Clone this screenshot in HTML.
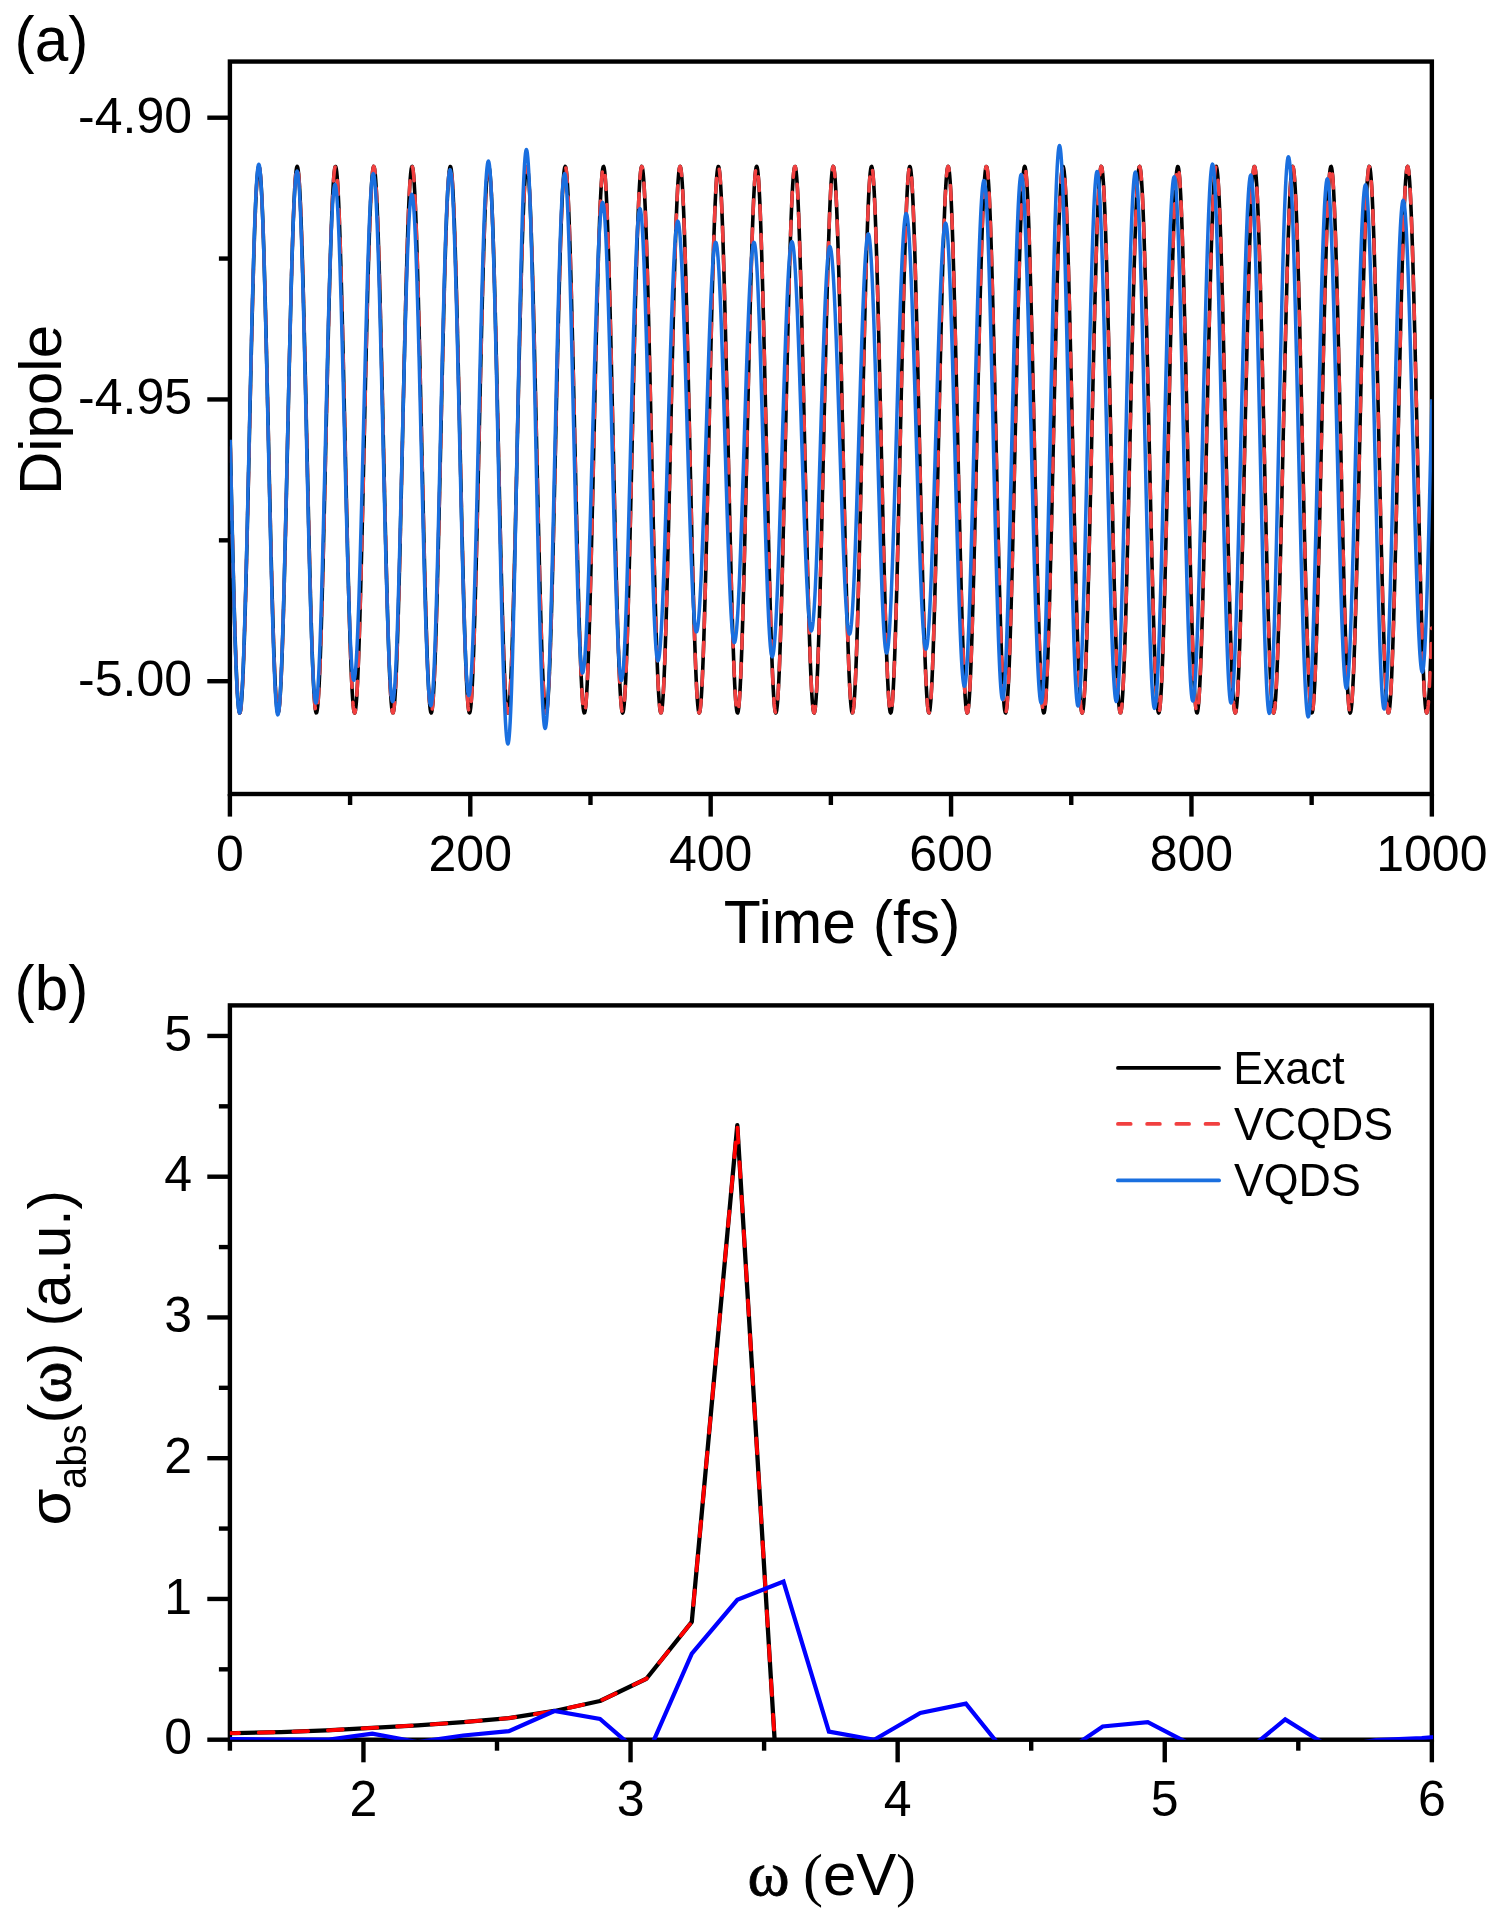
<!DOCTYPE html>
<html><head><meta charset="utf-8"><title>Dipole dynamics and absorption spectrum</title>
<style>
html,body{margin:0;padding:0;background:#fff;}
body{width:1495px;height:1913px;overflow:hidden;font-family:"Liberation Sans",sans-serif;}
svg{display:block;will-change:transform;}
</style></head><body>
<svg width="1495" height="1913" viewBox="0 0 1495 1913">
<defs>
<clipPath id="ca"><rect x="229.9" y="61.55" width="1201.95" height="732.45"/></clipPath>
<clipPath id="cb"><rect x="229.9" y="1005.4" width="1203.15" height="734.3"/></clipPath>
</defs>
<rect width="1495" height="1913" fill="#fff"/>
<g stroke="#000" stroke-width="4.4" fill="none" stroke-linecap="butt">
<rect x="229.9" y="61.55" width="1201.95" height="732.45"/>
<rect x="229.9" y="1005.4" width="1201.95" height="734.3"/>
<line x1="229.9" y1="794" x2="229.9" y2="816.6"/>
<line x1="350.09" y1="794" x2="350.09" y2="805"/>
<line x1="470.29" y1="794" x2="470.29" y2="816.6"/>
<line x1="590.48" y1="794" x2="590.48" y2="805"/>
<line x1="710.68" y1="794" x2="710.68" y2="816.6"/>
<line x1="830.87" y1="794" x2="830.87" y2="805"/>
<line x1="951.07" y1="794" x2="951.07" y2="816.6"/>
<line x1="1071.26" y1="794" x2="1071.26" y2="805"/>
<line x1="1191.46" y1="794" x2="1191.46" y2="816.6"/>
<line x1="1311.65" y1="794" x2="1311.65" y2="805"/>
<line x1="1431.85" y1="794" x2="1431.85" y2="816.6"/>
<line x1="207.3" y1="117.7" x2="229.9" y2="117.7"/>
<line x1="218.9" y1="258.57" x2="229.9" y2="258.57"/>
<line x1="207.3" y1="399.45" x2="229.9" y2="399.45"/>
<line x1="218.9" y1="540.32" x2="229.9" y2="540.32"/>
<line x1="207.3" y1="681.2" x2="229.9" y2="681.2"/>
<line x1="229.9" y1="1739.7" x2="229.9" y2="1750.7"/>
<line x1="363.45" y1="1739.7" x2="363.45" y2="1762.3"/>
<line x1="497" y1="1739.7" x2="497" y2="1750.7"/>
<line x1="630.55" y1="1739.7" x2="630.55" y2="1762.3"/>
<line x1="764.1" y1="1739.7" x2="764.1" y2="1750.7"/>
<line x1="897.65" y1="1739.7" x2="897.65" y2="1762.3"/>
<line x1="1031.2" y1="1739.7" x2="1031.2" y2="1750.7"/>
<line x1="1164.75" y1="1739.7" x2="1164.75" y2="1762.3"/>
<line x1="1298.3" y1="1739.7" x2="1298.3" y2="1750.7"/>
<line x1="1431.85" y1="1739.7" x2="1431.85" y2="1762.3"/>
<line x1="207.3" y1="1739.7" x2="229.9" y2="1739.7"/>
<line x1="218.9" y1="1669.33" x2="229.9" y2="1669.33"/>
<line x1="207.3" y1="1598.95" x2="229.9" y2="1598.95"/>
<line x1="218.9" y1="1528.58" x2="229.9" y2="1528.58"/>
<line x1="207.3" y1="1458.2" x2="229.9" y2="1458.2"/>
<line x1="218.9" y1="1387.83" x2="229.9" y2="1387.83"/>
<line x1="207.3" y1="1317.45" x2="229.9" y2="1317.45"/>
<line x1="218.9" y1="1247.08" x2="229.9" y2="1247.08"/>
<line x1="207.3" y1="1176.7" x2="229.9" y2="1176.7"/>
<line x1="218.9" y1="1106.33" x2="229.9" y2="1106.33"/>
<line x1="207.3" y1="1035.95" x2="229.9" y2="1035.95"/>
</g>
<g clip-path="url(#ca)" fill="none" stroke-linejoin="round">
<path d="M230.18 439.7 L230.68 462.1 L231.18 484.35 L231.68 506.29 L232.18 527.79 L232.68 548.7 L233.18 568.87 L233.68 588.18 L234.18 606.48 L234.68 623.67 L235.18 639.61 L235.68 654.21 L236.18 667.37 L236.68 678.99 L237.18 689.01 L237.68 697.35 L238.18 703.95 L238.68 708.78 L239.18 711.79 L239.68 712.98 L240.18 712.33 L240.68 709.84 L241.18 705.54 L241.68 699.44 L242.18 691.6 L242.68 682.07 L243.18 670.9 L243.68 658.18 L244.18 643.99 L244.68 628.42 L245.18 611.59 L245.68 593.59 L246.18 574.57 L246.68 554.63 L247.18 533.92 L247.68 512.58 L248.18 490.75 L248.68 468.57 L249.18 446.2 L249.68 423.79 L250.18 401.48 L250.68 379.43 L251.18 357.79 L251.68 336.69 L252.18 316.29 L252.68 296.72 L253.18 278.12 L253.68 260.6 L254.18 244.28 L254.68 229.28 L255.18 215.69 L255.68 203.62 L256.18 193.13 L256.68 184.29 L257.18 177.18 L257.68 171.84 L258.18 168.29 L258.68 166.57 L259.18 166.69 L259.68 168.65 L260.18 172.43 L260.68 178.01 L261.18 185.35 L261.68 194.4 L262.18 205.1 L262.68 217.38 L263.18 231.15 L263.68 246.33 L264.18 262.81 L264.68 280.48 L265.18 299.22 L265.68 318.9 L266.18 339.4 L266.68 360.57 L267.18 382.28 L267.68 404.37 L268.18 426.7 L268.68 449.12 L269.18 471.47 L269.68 493.61 L270.18 515.39 L270.68 536.65 L271.18 557.27 L271.68 577.09 L272.18 595.99 L272.68 613.84 L273.18 630.52 L273.68 645.91 L274.18 659.92 L274.68 672.44 L275.18 683.4 L275.68 692.72 L276.18 700.33 L276.68 706.2 L277.18 710.27 L277.68 712.52 L278.18 712.93 L278.68 711.51 L279.18 708.25 L279.68 703.19 L280.18 696.36 L280.68 687.8 L281.18 677.57 L281.68 665.74 L282.18 652.39 L282.68 637.61 L283.18 621.5 L283.68 604.16 L284.18 585.72 L284.68 566.3 L285.18 546.02 L285.68 525.03 L286.18 503.46 L286.68 481.47 L287.18 459.19 L287.68 436.78 L288.18 414.4 L288.68 392.18 L289.18 370.28 L289.68 348.85 L290.18 328.03 L290.68 307.97 L291.18 288.78 L291.68 270.62 L292.18 253.59 L292.68 237.81 L293.18 223.4 L293.68 210.43 L294.18 199.01 L294.68 189.21 L295.18 181.1 L295.68 174.72 L296.18 170.13 L296.68 167.35 L297.18 166.4 L297.68 167.29 L298.18 170.02 L298.68 174.56 L299.18 180.88 L299.68 188.94 L300.18 198.69 L300.68 210.07 L301.18 222.98 L301.68 237.36 L302.18 253.1 L302.68 270.09 L303.18 288.22 L303.68 307.38 L304.18 327.42 L304.68 348.22 L305.18 369.63 L305.68 391.52 L306.18 413.73 L306.68 436.11 L307.18 458.52 L307.68 480.8 L308.18 502.81 L308.68 524.39 L309.18 545.4 L309.68 565.7 L310.18 585.15 L310.68 603.63 L311.18 621 L311.68 637.15 L312.18 651.97 L312.68 665.36 L313.18 677.24 L313.68 687.52 L314.18 696.13 L314.68 703.01 L315.18 708.13 L315.68 711.43 L316.18 712.91 L316.68 712.56 L317.18 710.36 L317.68 706.35 L318.18 700.54 L318.68 692.97 L319.18 683.7 L319.68 672.79 L320.18 660.32 L320.68 646.35 L321.18 631 L321.68 614.36 L322.18 596.55 L322.68 577.67 L323.18 557.88 L323.68 537.28 L324.18 516.03 L324.68 494.27 L325.18 472.14 L325.68 449.79 L326.18 427.37 L326.68 405.04 L327.18 382.94 L327.68 361.22 L328.18 340.03 L328.68 319.51 L329.18 299.79 L329.68 281.02 L330.18 263.32 L330.68 246.8 L331.18 231.59 L331.68 217.77 L332.18 205.44 L332.68 194.69 L333.18 185.59 L333.68 178.2 L334.18 172.57 L334.68 168.74 L335.18 166.73 L335.68 166.55 L336.18 168.21 L336.68 171.7 L337.18 177 L337.68 184.06 L338.18 192.84 L338.68 203.28 L339.18 215.31 L339.68 228.85 L340.18 243.81 L340.68 260.09 L341.18 277.57 L341.68 296.15 L342.18 315.69 L342.68 336.07 L343.18 357.15 L343.68 378.78 L344.18 400.82 L344.68 423.12 L345.18 445.53 L345.68 467.9 L346.18 490.09 L346.68 511.93 L347.18 533.29 L347.68 554.02 L348.18 573.98 L348.68 593.04 L349.18 611.06 L349.68 627.93 L350.18 643.54 L350.68 657.77 L351.18 670.54 L351.68 681.76 L352.18 691.34 L352.68 699.23 L353.18 705.38 L353.68 709.74 L354.18 712.28 L354.68 712.99 L355.18 711.86 L355.68 708.9 L356.18 704.12 L356.68 697.57 L357.18 689.28 L357.68 679.32 L358.18 667.74 L358.68 654.63 L359.18 640.07 L359.68 624.16 L360.18 607.01 L360.68 588.74 L361.18 569.46 L361.68 549.32 L362.18 528.43 L362.68 506.95 L363.18 485.01 L363.68 462.77 L364.18 440.37 L364.68 417.97 L365.18 395.72 L365.68 373.76 L366.18 352.24 L366.68 331.32 L367.18 311.12 L367.68 291.79 L368.18 273.45 L368.68 256.23 L369.18 240.25 L369.68 225.61 L370.18 212.4 L370.68 200.73 L371.18 190.67 L371.68 182.28 L372.18 175.62 L372.68 170.74 L373.18 167.67 L373.68 166.43 L374.18 167.03 L374.68 169.46 L375.18 173.71 L375.68 179.75 L376.18 187.54 L376.68 197.02 L377.18 208.14 L377.68 220.82 L378.18 234.97 L378.68 250.49 L379.18 267.29 L379.68 285.25 L380.18 304.25 L380.68 324.16 L381.18 344.85 L381.68 366.17 L382.18 387.99 L382.68 410.16 L383.18 432.53 L383.68 454.94 L384.18 477.25 L384.68 499.31 L385.18 520.97 L385.68 542.08 L386.18 562.51 L386.68 582.1 L387.18 600.74 L387.68 618.3 L388.18 634.65 L388.68 649.69 L389.18 663.32 L389.68 675.44 L390.18 685.98 L390.68 694.86 L391.18 702.03 L391.68 707.43 L392.18 711.03 L392.68 712.8 L393.18 712.74 L393.68 710.84 L394.18 707.11 L394.68 701.59 L395.18 694.3 L395.68 685.3 L396.18 674.65 L396.68 662.41 L397.18 648.68 L397.68 633.55 L398.18 617.1 L398.68 599.47 L399.18 580.76 L399.68 561.1 L400.18 540.63 L400.68 519.47 L401.18 497.78 L401.68 475.7 L402.18 453.37 L402.68 430.96 L403.18 408.6 L403.68 386.45 L404.18 364.66 L404.68 343.38 L405.18 322.74 L405.68 302.89 L406.18 283.96 L406.68 266.08 L407.18 249.36 L407.68 233.93 L408.18 219.88 L408.68 207.31 L409.18 196.31 L409.68 186.94 L410.18 179.27 L410.68 173.35 L411.18 169.23 L411.68 166.92 L412.18 166.46 L412.68 167.82 L413.18 171.02 L413.68 176.03 L414.18 182.81 L414.68 191.32 L415.18 201.5 L415.68 213.28 L416.18 226.59 L416.68 241.33 L417.18 257.4 L417.68 274.7 L418.18 293.11 L418.68 312.51 L419.18 332.76 L419.68 353.73 L420.18 375.28 L420.68 397.27 L421.18 419.54 L421.68 441.94 L422.18 464.33 L422.68 486.56 L423.18 508.47 L423.68 529.91 L424.18 550.75 L424.68 570.84 L425.18 590.05 L425.68 608.25 L426.18 625.32 L426.68 641.13 L427.18 655.59 L427.68 668.6 L428.18 680.07 L428.68 689.92 L429.18 698.09 L429.68 704.51 L430.18 709.16 L430.68 712 L431.18 713 L431.68 712.16 L432.18 709.49 L432.68 705.01 L433.18 698.74 L433.68 690.72 L434.18 681.02 L434.68 669.7 L435.18 656.82 L435.68 642.49 L436.18 626.79 L436.68 609.84 L437.18 591.74 L437.68 572.61 L438.18 552.59 L438.68 531.81 L439.18 510.42 L439.68 488.54 L440.18 466.34 L440.68 443.96 L441.18 421.55 L441.68 399.26 L442.18 377.25 L442.68 355.65 L443.18 334.62 L443.68 314.3 L444.18 294.82 L444.68 276.31 L445.18 258.91 L445.68 242.72 L446.18 227.86 L446.68 214.42 L447.18 202.49 L447.68 192.17 L448.18 183.51 L448.68 176.57 L449.18 171.4 L449.68 168.04 L450.18 166.5 L450.68 166.81 L451.18 168.95 L451.68 172.91 L452.18 178.66 L452.68 186.18 L453.18 195.39 L453.68 206.26 L454.18 218.69 L454.68 232.61 L455.18 247.92 L455.68 264.52 L456.18 282.3 L456.68 301.14 L457.18 320.92 L457.68 341.49 L458.18 362.72 L458.68 384.47 L459.18 406.59 L459.68 428.94 L460.18 451.36 L460.68 473.7 L461.18 495.81 L461.68 517.54 L462.18 538.75 L462.68 559.29 L463.18 579.03 L463.68 597.83 L464.18 615.56 L464.68 632.12 L465.18 647.38 L465.68 661.24 L466.18 673.61 L466.68 684.41 L467.18 693.56 L467.68 701 L468.18 706.69 L468.68 710.57 L469.18 712.64 L469.68 712.87 L470.18 711.26 L470.68 707.83 L471.18 702.59 L471.68 695.58 L472.18 686.85 L472.68 676.46 L473.18 664.47 L473.68 650.98 L474.18 636.06 L474.68 619.82 L475.18 602.37 L475.68 583.82 L476.18 564.3 L476.68 543.95 L477.18 522.9 L477.68 501.28 L478.18 479.25 L478.68 456.95 L479.18 434.54 L479.68 412.17 L480.18 389.97 L480.68 368.12 L481.18 346.74 L481.68 325.99 L482.18 306.01 L482.68 286.92 L483.18 268.86 L483.68 251.95 L484.18 236.31 L484.68 222.03 L485.18 209.22 L485.68 197.96 L486.18 188.32 L486.68 180.38 L487.18 174.18 L487.68 169.77 L488.18 167.17 L488.68 166.41 L489.18 167.48 L489.68 170.39 L490.18 175.11 L490.68 181.61 L491.18 189.84 L491.68 199.76 L492.18 211.29 L492.68 224.36 L493.18 238.87 L493.68 254.74 L494.18 271.85 L494.68 290.1 L495.18 309.34 L495.68 329.47 L496.18 350.33 L496.68 371.8 L497.18 393.73 L497.68 415.96 L498.18 438.35 L498.68 460.76 L499.18 483.02 L499.68 504.99 L500.18 526.52 L500.68 547.46 L501.18 567.69 L501.68 587.05 L502.18 605.41 L502.68 622.67 L503.18 638.69 L503.68 653.37 L504.18 666.62 L504.68 678.34 L505.18 688.45 L505.68 696.9 L506.18 703.61 L506.68 708.54 L507.18 711.67 L507.68 712.96 L508.18 712.42 L508.68 710.04 L509.18 705.85 L509.68 699.86 L510.18 692.12 L510.68 682.69 L511.18 671.62 L511.68 658.98 L512.18 644.88 L512.68 629.39 L513.18 612.63 L513.68 594.7 L514.18 575.73 L514.68 555.85 L515.18 535.18 L515.68 513.88 L516.18 492.07 L516.68 469.91 L517.18 447.55 L517.68 425.13 L518.18 402.81 L518.68 380.74 L519.18 359.07 L519.68 337.94 L520.18 317.5 L520.68 297.87 L521.18 279.2 L521.68 261.61 L522.18 245.22 L522.68 230.14 L523.18 216.47 L523.68 204.3 L524.18 193.71 L524.68 184.78 L525.18 177.56 L525.68 172.11 L526.18 168.45 L526.68 166.63 L527.18 166.63 L527.68 168.48 L528.18 172.15 L528.68 177.62 L529.18 184.86 L529.68 193.81 L530.18 204.41 L530.68 216.6 L531.18 230.28 L531.68 245.38 L532.18 261.78 L532.68 279.39 L533.18 298.06 L533.68 317.7 L534.18 338.15 L534.68 359.29 L535.18 380.96 L535.68 403.04 L536.18 425.36 L536.68 447.77 L537.18 470.13 L537.68 492.29 L538.18 514.09 L538.68 535.39 L539.18 556.05 L539.68 575.93 L540.18 594.89 L540.68 612.8 L541.18 629.55 L541.68 645.03 L542.18 659.12 L542.68 671.73 L543.18 682.79 L543.68 692.21 L544.18 699.93 L544.68 705.9 L545.18 710.07 L545.68 712.43 L546.18 712.96 L546.68 711.64 L547.18 708.5 L547.68 703.55 L548.18 696.82 L548.68 688.36 L549.18 678.23 L549.68 666.5 L550.18 653.23 L550.68 638.54 L551.18 622.5 L551.68 605.24 L552.18 586.86 L552.68 567.49 L553.18 547.26 L553.68 526.31 L554.18 504.77 L554.68 482.8 L555.18 460.53 L555.68 438.13 L556.18 415.74 L556.68 393.51 L557.18 371.59 L557.68 350.12 L558.18 329.26 L558.68 309.15 L559.18 289.91 L559.68 271.68 L560.18 254.58 L560.68 238.72 L561.18 224.22 L561.68 211.17 L562.18 199.65 L562.68 189.75 L563.18 181.53 L563.68 175.05 L564.18 170.35 L564.68 167.46 L565.18 166.41 L565.68 167.19 L566.18 169.8 L566.68 174.23 L567.18 180.45 L567.68 188.41 L568.18 198.06 L568.68 209.34 L569.18 222.17 L569.68 236.46 L570.18 252.12 L570.68 269.04 L571.18 287.11 L571.68 306.2 L572.18 326.19 L572.68 346.95 L573.18 368.33 L573.68 390.19 L574.18 412.39 L574.68 434.77 L575.18 457.18 L575.68 479.47 L576.18 501.5 L576.68 523.11 L577.18 544.16 L577.68 564.5 L578.18 584.01 L578.68 602.55 L579.18 619.99 L579.68 636.21 L580.18 651.12 L580.68 664.6 L581.18 676.57 L581.68 686.95 L582.18 695.66 L582.68 702.65 L583.18 707.87 L583.68 711.29 L584.18 712.88 L584.68 712.63 L585.18 710.54 L585.68 706.64 L586.18 700.94 L586.68 693.47 L587.18 684.31 L587.68 673.49 L588.18 661.11 L588.68 647.23 L589.18 631.96 L589.68 615.39 L590.18 597.65 L590.68 578.83 L591.18 559.09 L591.68 538.54 L592.18 517.32 L592.68 495.59 L593.18 473.47 L593.68 451.13 L594.18 428.72 L594.68 406.37 L595.18 384.25 L595.68 362.51 L596.18 341.28 L596.68 320.72 L597.18 300.95 L597.68 282.12 L598.18 264.35 L598.68 247.76 L599.18 232.46 L599.68 218.56 L600.18 206.14 L600.68 195.29 L601.18 186.09 L601.68 178.6 L602.18 172.86 L602.68 168.92 L603.18 166.79 L603.68 166.51 L604.18 168.06 L604.68 171.44 L605.18 176.63 L605.68 183.58 L606.18 192.26 L606.68 202.61 L607.18 214.54 L607.68 228 L608.18 242.87 L608.68 259.08 L609.18 276.49 L609.68 295.01 L610.18 314.5 L610.68 334.83 L611.18 355.86 L611.68 377.46 L612.18 399.48 L612.68 421.77 L613.18 444.18 L613.68 466.56 L614.18 488.76 L614.68 510.63 L615.18 532.03 L615.68 552.8 L616.18 572.81 L616.68 591.92 L617.18 610.01 L617.68 626.96 L618.18 642.64 L618.68 656.96 L619.18 669.82 L619.68 681.13 L620.18 690.81 L620.68 698.81 L621.18 705.06 L621.68 709.53 L622.18 712.18 L622.68 713 L623.18 711.98 L623.68 709.12 L624.18 704.46 L624.68 698.01 L625.18 689.83 L625.68 679.96 L626.18 668.48 L626.68 655.46 L627.18 640.98 L627.68 625.15 L628.18 608.08 L628.68 589.87 L629.18 570.65 L629.68 550.55 L630.18 529.7 L630.68 508.25 L631.18 486.34 L631.68 464.11 L632.18 441.72 L632.68 419.31 L633.18 397.05 L633.68 375.07 L634.18 353.52 L634.68 332.55 L635.18 312.31 L635.68 292.92 L636.18 274.52 L636.68 257.23 L637.18 241.17 L637.68 226.45 L638.18 213.15 L638.68 201.39 L639.18 191.22 L639.68 182.73 L640.18 175.97 L640.68 170.98 L641.18 167.8 L641.68 166.45 L642.18 166.94 L642.68 169.26 L643.18 173.4 L643.68 179.34 L644.18 187.02 L644.68 196.41 L645.18 207.43 L645.68 220.01 L646.18 234.08 L646.68 249.52 L647.18 266.25 L647.68 284.14 L648.18 303.08 L648.68 322.94 L649.18 343.59 L649.68 364.88 L650.18 386.67 L650.68 408.82 L651.18 431.18 L651.68 453.6 L652.18 475.92 L652.68 498 L653.18 519.69 L653.68 540.83 L654.18 561.3 L654.68 580.95 L655.18 599.65 L655.68 617.28 L656.18 633.7 L656.68 648.83 L657.18 662.54 L657.68 674.76 L658.18 685.4 L658.68 694.38 L659.18 701.65 L659.68 707.16 L660.18 710.86 L660.68 712.75 L661.18 712.79 L661.68 711 L662.18 707.38 L662.68 701.97 L663.18 694.78 L663.68 685.89 L664.18 675.33 L664.68 663.19 L665.18 649.55 L665.68 634.49 L666.18 618.13 L666.68 600.56 L667.18 581.91 L667.68 562.3 L668.18 541.87 L668.68 520.76 L669.18 499.09 L669.68 477.03 L670.18 454.72 L670.68 432.3 L671.18 409.94 L671.68 387.77 L672.18 365.96 L672.68 344.64 L673.18 323.96 L673.68 304.05 L674.18 285.07 L674.68 267.12 L675.18 250.33 L675.68 234.82 L676.18 220.68 L676.68 208.02 L677.18 196.92 L677.68 187.45 L678.18 179.68 L678.68 173.66 L679.18 169.42 L679.68 167.01 L680.18 166.43 L680.68 167.69 L681.18 170.78 L681.68 175.68 L682.18 182.35 L682.68 190.76 L683.18 200.84 L683.68 212.53 L684.18 225.75 L684.68 240.4 L685.18 256.4 L685.68 273.63 L686.18 291.98 L686.68 311.32 L687.18 331.52 L687.68 352.46 L688.18 373.98 L688.68 395.94 L689.18 418.2 L689.68 440.6 L690.18 462.99 L690.68 485.23 L691.18 507.16 L691.68 528.64 L692.18 549.52 L692.68 569.66 L693.18 588.93 L693.68 607.19 L694.18 624.33 L694.68 640.22 L695.18 654.77 L695.68 667.86 L696.18 679.43 L696.68 689.38 L697.18 697.64 L697.68 704.18 L698.18 708.93 L698.68 711.88 L699.18 712.99 L699.68 712.26 L700.18 709.7 L700.68 705.33 L701.18 699.16 L701.68 691.25 L702.18 681.65 L702.68 670.42 L703.18 657.64 L703.68 643.39 L704.18 627.77 L704.68 610.89 L705.18 592.85 L705.68 573.79 L706.18 553.82 L706.68 533.08 L707.18 511.72 L707.68 489.87 L708.18 467.68 L708.68 445.31 L709.18 422.89 L709.68 400.59 L710.18 378.56 L710.68 356.93 L711.18 335.86 L711.68 315.49 L712.18 295.96 L712.68 277.39 L713.18 259.92 L713.68 243.65 L714.18 228.71 L714.68 215.18 L715.18 203.16 L715.68 192.74 L716.18 183.98 L716.68 176.93 L717.18 171.66 L717.68 168.19 L718.18 166.54 L718.68 166.74 L719.18 168.77 L719.68 172.62 L720.18 178.27 L720.68 185.68 L721.18 194.79 L721.68 205.56 L722.18 217.9 L722.68 231.73 L723.18 246.96 L723.68 263.49 L724.18 281.21 L724.68 299.99 L725.18 319.71 L725.68 340.24 L726.18 361.43 L726.68 383.16 L727.18 405.26 L727.68 427.6 L728.18 450.01 L728.68 472.36 L729.18 494.49 L729.68 516.25 L730.18 537.49 L730.68 558.08 L731.18 577.87 L731.68 596.73 L732.18 614.53 L732.68 631.16 L733.18 646.5 L733.68 660.45 L734.18 672.91 L734.68 683.8 L735.18 693.06 L735.68 700.6 L736.18 706.4 L736.68 710.39 L737.18 712.57 L737.68 712.91 L738.18 711.41 L738.68 708.08 L739.18 702.95 L739.68 696.05 L740.18 687.42 L740.68 677.13 L741.18 665.24 L741.68 651.83 L742.18 636.99 L742.68 620.83 L743.18 603.45 L743.68 584.96 L744.18 565.5 L744.68 545.19 L745.18 524.18 L745.68 502.59 L746.18 480.58 L746.68 458.3 L747.18 435.89 L747.68 413.5 L748.18 391.3 L748.68 369.42 L749.18 348.01 L749.68 327.22 L750.18 307.18 L750.68 288.04 L751.18 269.91 L751.68 252.93 L752.18 237.21 L752.68 222.85 L753.18 209.95 L753.68 198.59 L754.18 188.85 L754.68 180.81 L755.18 174.5 L755.68 169.98 L756.18 167.27 L756.68 166.4 L757.18 167.37 L757.68 170.16 L758.18 174.77 L758.68 181.17 L759.18 189.3 L759.68 199.12 L760.18 210.55 L760.68 223.53 L761.18 237.96 L761.68 253.75 L762.18 270.79 L762.68 288.97 L763.18 308.16 L763.68 328.24 L764.18 349.06 L764.68 370.5 L765.18 392.4 L765.68 414.62 L766.18 437.01 L766.68 459.42 L767.18 481.69 L767.68 503.68 L768.18 525.24 L768.68 546.23 L769.18 566.49 L769.68 585.91 L770.18 604.34 L770.68 621.67 L771.18 637.77 L771.68 652.53 L772.18 665.87 L772.68 677.68 L773.18 687.89 L773.68 696.44 L774.18 703.25 L774.68 708.29 L775.18 711.53 L775.68 712.94 L776.18 712.5 L776.68 710.24 L777.18 706.15 L777.68 700.27 L778.18 692.63 L778.68 683.3 L779.18 672.32 L779.68 659.79 L780.18 645.77 L780.68 630.36 L781.18 613.67 L781.68 595.81 L782.18 576.9 L782.68 557.07 L783.18 536.44 L783.68 515.17 L784.18 493.39 L784.68 471.25 L785.18 448.89 L785.68 426.48 L786.18 404.15 L786.68 382.06 L787.18 360.36 L787.68 339.19 L788.18 318.7 L788.68 299.02 L789.18 280.29 L789.68 262.64 L790.18 246.17 L790.68 231.01 L791.18 217.25 L791.68 204.98 L792.18 194.3 L792.68 185.26 L793.18 177.94 L793.68 172.38 L794.18 168.62 L794.68 166.68 L795.18 166.58 L795.68 168.32 L796.18 171.88 L796.68 177.24 L797.18 184.37 L797.68 193.22 L798.18 203.73 L798.68 215.82 L799.18 229.42 L799.68 244.44 L800.18 260.77 L800.68 278.3 L801.18 296.92 L801.68 316.49 L802.18 336.9 L802.68 358 L803.18 379.65 L803.68 401.7 L804.18 424.01 L804.68 446.43 L805.18 468.8 L805.68 490.97 L806.18 512.8 L806.68 534.13 L807.18 554.83 L807.68 574.76 L808.18 593.78 L808.68 611.76 L809.18 628.58 L809.68 644.14 L810.18 658.31 L810.68 671.02 L811.18 682.17 L811.68 691.69 L812.18 699.51 L812.68 705.59 L813.18 709.87 L813.68 712.34 L814.18 712.98 L814.68 711.77 L815.18 708.74 L815.68 703.89 L816.18 697.27 L816.68 688.92 L817.18 678.89 L817.68 667.24 L818.18 654.07 L818.68 639.46 L819.18 623.5 L819.68 606.3 L820.18 587.99 L820.68 568.67 L821.18 548.49 L821.68 527.58 L822.18 506.08 L822.68 484.12 L823.18 461.87 L823.68 439.48 L824.18 417.08 L824.68 394.83 L825.18 372.89 L825.68 351.4 L826.18 330.5 L826.68 310.33 L827.18 291.04 L827.68 272.74 L828.18 255.57 L828.68 239.64 L829.18 225.05 L829.68 211.91 L830.18 200.3 L830.68 190.3 L831.18 181.98 L831.68 175.39 L832.18 170.58 L832.68 167.58 L833.18 166.42 L833.68 167.09 L834.18 169.59 L834.68 173.92 L835.18 180.03 L835.68 187.88 L836.18 197.44 L836.68 208.62 L837.18 221.36 L837.68 235.56 L838.18 251.14 L838.68 267.99 L839.18 285.99 L839.68 305.03 L840.18 324.97 L840.68 345.69 L841.18 367.04 L841.68 388.87 L842.18 411.05 L842.68 433.42 L843.18 455.84 L843.68 478.14 L844.18 500.19 L844.68 521.83 L845.18 542.91 L845.68 563.31 L846.18 582.87 L846.68 601.46 L847.18 618.97 L847.68 635.28 L848.18 650.26 L848.68 663.83 L849.18 675.9 L849.68 686.37 L850.18 695.18 L850.68 702.28 L851.18 707.61 L851.68 711.13 L852.18 712.83 L852.68 712.7 L853.18 710.72 L853.68 706.92 L854.18 701.33 L854.68 693.97 L855.18 684.9 L855.68 674.19 L856.18 661.89 L856.68 648.1 L857.18 632.91 L857.68 616.42 L858.18 598.74 L858.68 579.99 L859.18 560.3 L859.68 539.79 L860.18 518.61 L860.68 496.9 L861.18 474.81 L861.68 452.48 L862.18 430.06 L862.68 407.71 L863.18 385.57 L863.68 363.8 L864.18 342.54 L864.68 321.93 L865.18 302.11 L865.68 283.22 L866.18 265.38 L866.68 248.72 L867.18 233.34 L867.68 219.35 L868.18 206.84 L868.68 195.9 L869.18 186.6 L869.68 179 L870.18 173.15 L870.68 169.1 L871.18 166.87 L871.68 166.47 L872.18 167.92 L872.68 171.19 L873.18 176.27 L873.68 183.12 L874.18 191.69 L874.68 201.94 L875.18 213.78 L875.68 227.15 L876.18 241.94 L876.68 258.07 L877.18 275.42 L877.68 293.87 L878.18 313.3 L878.68 333.59 L879.18 354.58 L879.68 376.16 L880.18 398.15 L880.68 420.43 L881.18 442.84 L881.68 465.23 L882.18 487.44 L882.68 509.33 L883.18 530.76 L883.68 551.57 L884.18 571.63 L884.68 590.8 L885.18 608.96 L885.68 625.97 L886.18 641.74 L886.68 656.14 L887.18 669.09 L887.68 680.49 L888.18 690.28 L888.68 698.38 L889.18 704.74 L889.68 709.31 L890.18 712.07 L890.68 713 L891.18 712.09 L891.68 709.35 L892.18 704.79 L892.68 698.45 L893.18 690.37 L893.68 680.6 L894.18 669.21 L894.68 656.28 L895.18 641.89 L895.68 626.14 L896.18 609.13 L896.68 590.99 L897.18 571.83 L897.68 551.78 L898.18 530.97 L898.68 509.55 L899.18 487.66 L899.68 465.45 L900.18 443.06 L900.68 420.66 L901.18 398.38 L901.68 376.37 L902.18 354.8 L902.68 333.79 L903.18 313.5 L903.68 294.06 L904.18 275.6 L904.68 258.24 L905.18 242.1 L905.68 227.29 L906.18 213.91 L906.68 202.05 L907.18 191.79 L907.68 183.19 L908.18 176.33 L908.68 171.23 L909.18 167.94 L909.68 166.48 L910.18 166.86 L910.68 169.07 L911.18 173.1 L911.68 178.93 L912.18 186.51 L912.68 195.8 L913.18 206.72 L913.68 219.22 L914.18 233.19 L914.68 248.56 L915.18 265.21 L915.68 283.04 L916.18 301.92 L916.68 321.73 L917.18 342.33 L917.68 363.58 L918.18 385.35 L918.68 407.49 L919.18 429.84 L919.68 452.25 L920.18 474.59 L920.68 496.68 L921.18 518.4 L921.68 539.58 L922.18 560.1 L922.68 579.8 L923.18 598.56 L923.68 616.25 L924.18 632.75 L924.68 647.96 L925.18 661.76 L925.68 674.07 L926.18 684.8 L926.68 693.89 L927.18 701.26 L927.68 706.88 L928.18 710.69 L928.68 712.69 L929.18 712.84 L929.68 711.16 L930.18 707.65 L930.68 702.34 L931.18 695.26 L931.68 686.47 L932.18 676.01 L932.68 663.96 L933.18 650.41 L933.68 635.43 L934.18 619.14 L934.68 601.65 L935.18 583.06 L935.68 563.51 L936.18 543.12 L936.68 522.04 L937.18 500.41 L937.68 478.36 L938.18 456.06 L938.68 433.65 L939.18 411.27 L939.68 389.09 L940.18 367.25 L940.68 345.9 L941.18 325.18 L941.68 305.22 L942.18 286.18 L942.68 268.16 L943.18 251.3 L943.68 235.71 L944.18 221.49 L944.68 208.74 L945.18 197.54 L945.68 187.97 L946.18 180.1 L946.68 173.97 L947.18 169.63 L947.68 167.1 L948.18 166.41 L948.68 167.56 L949.18 170.54 L949.68 175.33 L950.18 181.9 L950.68 190.21 L951.18 200.19 L951.68 211.78 L952.18 224.91 L952.68 239.48 L953.18 255.4 L953.68 272.56 L954.18 290.85 L954.68 310.13 L955.18 330.29 L955.68 351.18 L956.18 372.67 L956.68 394.61 L957.18 416.85 L957.68 439.25 L958.18 461.65 L958.68 483.9 L959.18 505.86 L959.68 527.37 L960.18 548.29 L960.68 568.48 L961.18 587.8 L961.68 606.13 L962.18 623.33 L962.68 639.3 L963.18 653.93 L963.68 667.12 L964.18 678.78 L964.68 688.82 L965.18 697.2 L965.68 703.84 L966.18 708.7 L966.68 711.75 L967.18 712.97 L967.68 712.36 L968.18 709.91 L968.68 705.64 L969.18 699.58 L969.68 691.78 L970.18 682.27 L970.68 671.14 L971.18 658.45 L971.68 644.29 L972.18 628.75 L972.68 611.93 L973.18 593.96 L973.68 574.96 L974.18 555.04 L974.68 534.34 L975.18 513.01 L975.68 491.19 L976.18 469.02 L976.68 446.65 L977.18 424.24 L977.68 401.93 L978.18 379.87 L978.68 358.22 L979.18 337.11 L979.68 316.69 L980.18 297.11 L980.68 278.48 L981.18 260.93 L981.68 244.59 L982.18 229.57 L982.68 215.95 L983.18 203.84 L983.68 193.32 L984.18 184.45 L984.68 177.31 L985.18 171.93 L985.68 168.35 L986.18 166.59 L986.68 166.67 L987.18 168.59 L987.68 172.34 L988.18 177.88 L988.68 185.18 L989.18 194.2 L989.68 204.87 L990.18 217.12 L990.68 230.86 L991.18 246.01 L991.68 262.47 L992.18 280.11 L992.68 298.83 L993.18 318.5 L993.68 338.98 L994.18 360.14 L994.68 381.84 L995.18 403.93 L995.68 426.25 L996.18 448.67 L996.68 471.02 L997.18 493.17 L997.68 514.96 L998.18 536.23 L998.68 556.86 L999.18 576.71 L999.68 595.63 L1000.18 613.5 L1000.68 630.2 L1001.18 645.62 L1001.68 659.65 L1002.18 672.21 L1002.68 683.2 L1003.18 692.55 L1003.68 700.2 L1004.18 706.1 L1004.68 710.2 L1005.18 712.49 L1005.68 712.94 L1006.18 711.55 L1006.68 708.34 L1007.18 703.31 L1007.68 696.51 L1008.18 687.99 L1008.68 677.79 L1009.18 665.99 L1009.68 652.67 L1010.18 637.92 L1010.68 621.83 L1011.18 604.52 L1011.68 586.1 L1012.18 566.69 L1012.68 546.43 L1013.18 525.45 L1013.68 503.9 L1014.18 481.91 L1014.68 459.64 L1015.18 437.23 L1015.68 414.84 L1016.18 392.62 L1016.68 370.72 L1017.18 349.28 L1017.68 328.44 L1018.18 308.36 L1018.68 289.16 L1019.18 270.97 L1019.68 253.92 L1020.18 238.12 L1020.68 223.67 L1021.18 210.68 L1021.68 199.22 L1022.18 189.39 L1022.68 181.24 L1023.18 174.83 L1023.68 170.2 L1024.18 167.38 L1024.68 166.4 L1025.18 167.26 L1025.68 169.94 L1026.18 174.45 L1026.68 180.73 L1027.18 188.76 L1027.68 198.48 L1028.18 209.82 L1028.68 222.71 L1029.18 237.06 L1029.68 252.77 L1030.18 269.74 L1030.68 287.85 L1031.18 306.98 L1031.68 327.01 L1032.18 347.8 L1032.68 369.2 L1033.18 391.08 L1033.68 413.28 L1034.18 435.66 L1034.68 458.07 L1035.18 480.36 L1035.68 502.37 L1036.18 523.96 L1036.68 544.99 L1037.18 565.3 L1037.68 584.77 L1038.18 603.27 L1038.68 620.66 L1039.18 636.84 L1039.68 651.69 L1040.18 665.11 L1040.68 677.02 L1041.18 687.33 L1041.68 695.97 L1042.18 702.89 L1042.68 708.04 L1043.18 711.39 L1043.68 712.9 L1044.18 712.58 L1044.68 710.42 L1045.18 706.44 L1045.68 700.67 L1046.18 693.14 L1046.68 683.91 L1047.18 673.03 L1047.68 660.58 L1048.18 646.65 L1048.68 631.32 L1049.18 614.7 L1049.68 596.91 L1050.18 578.06 L1050.68 558.28 L1051.18 537.7 L1051.68 516.46 L1052.18 494.71 L1052.68 472.58 L1053.18 450.24 L1053.68 427.82 L1054.18 405.48 L1054.68 383.37 L1055.18 361.65 L1055.68 340.44 L1056.18 319.91 L1056.68 300.18 L1057.18 281.39 L1057.68 263.66 L1058.18 247.12 L1058.68 231.88 L1059.18 218.03 L1059.68 205.67 L1060.18 194.89 L1060.68 185.76 L1061.18 178.33 L1061.68 172.67 L1062.18 168.8 L1062.68 166.75 L1063.18 166.54 L1063.68 168.16 L1064.18 171.62 L1064.68 176.87 L1065.18 183.9 L1065.68 192.64 L1066.18 203.05 L1066.68 215.05 L1067.18 228.57 L1067.68 243.5 L1068.18 259.75 L1068.68 277.21 L1069.18 295.77 L1069.68 315.29 L1070.18 335.66 L1070.68 356.72 L1071.18 378.34 L1071.68 400.37 L1072.18 422.67 L1072.68 445.08 L1073.18 467.46 L1073.68 489.65 L1074.18 511.5 L1074.68 532.87 L1075.18 553.61 L1075.68 573.59 L1076.18 592.67 L1076.68 610.71 L1077.18 627.61 L1077.68 643.24 L1078.18 657.5 L1078.68 670.3 L1079.18 681.55 L1079.68 691.17 L1080.18 699.09 L1080.68 705.27 L1081.18 709.67 L1081.68 712.25 L1082.18 712.99 L1082.68 711.9 L1083.18 708.97 L1083.68 704.24 L1084.18 697.72 L1084.68 689.47 L1085.18 679.53 L1085.68 667.99 L1086.18 654.9 L1086.68 640.37 L1087.18 624.49 L1087.68 607.37 L1088.18 589.12 L1088.68 569.86 L1089.18 549.73 L1089.68 528.85 L1090.18 507.38 L1090.68 485.45 L1091.18 463.22 L1091.68 440.82 L1092.18 418.42 L1092.68 396.16 L1093.18 374.19 L1093.68 352.67 L1094.18 331.73 L1094.68 311.52 L1095.18 292.17 L1095.68 273.81 L1096.18 256.57 L1096.68 240.56 L1097.18 225.89 L1097.68 212.65 L1098.18 200.95 L1098.68 190.85 L1099.18 182.43 L1099.68 175.74 L1100.18 170.82 L1100.68 167.71 L1101.18 166.43 L1101.68 167 L1102.18 169.39 L1102.68 173.61 L1103.18 179.61 L1103.68 187.36 L1104.18 196.82 L1104.68 207.9 L1105.18 220.55 L1105.68 234.67 L1106.18 250.17 L1106.68 266.94 L1107.18 284.88 L1107.68 303.86 L1108.18 323.75 L1108.68 344.43 L1109.18 365.74 L1109.68 387.55 L1110.18 409.71 L1110.68 432.08 L1111.18 454.49 L1111.68 476.81 L1112.18 498.87 L1112.68 520.54 L1113.18 541.67 L1113.68 562.1 L1114.18 581.72 L1114.68 600.38 L1115.18 617.96 L1115.68 634.33 L1116.18 649.4 L1116.68 663.06 L1117.18 675.22 L1117.68 685.79 L1118.18 694.7 L1118.68 701.9 L1119.18 707.34 L1119.68 710.97 L1120.18 712.78 L1120.68 712.76 L1121.18 710.89 L1121.68 707.2 L1122.18 701.71 L1122.68 694.46 L1123.18 685.5 L1123.68 674.88 L1124.18 662.67 L1124.68 648.97 L1125.18 633.86 L1125.68 617.45 L1126.18 599.83 L1126.68 581.14 L1127.18 561.5 L1127.68 541.04 L1128.18 519.9 L1128.68 498.22 L1129.18 476.14 L1129.68 453.82 L1130.18 431.4 L1130.68 409.04 L1131.18 386.89 L1131.68 365.09 L1132.18 343.8 L1132.68 323.14 L1133.18 303.28 L1133.68 284.33 L1134.18 266.42 L1134.68 249.69 L1135.18 234.23 L1135.68 220.15 L1136.18 207.55 L1136.68 196.51 L1137.18 187.11 L1137.68 179.4 L1138.18 173.45 L1138.68 169.29 L1139.18 166.95 L1139.68 166.45 L1140.18 167.78 L1140.68 170.94 L1141.18 175.91 L1141.68 182.66 L1142.18 191.13 L1142.68 201.28 L1143.18 213.03 L1143.68 226.31 L1144.18 241.02 L1144.68 257.07 L1145.18 274.34 L1145.68 292.73 L1146.18 312.11 L1146.68 332.35 L1147.18 353.31 L1147.68 374.85 L1148.18 396.82 L1148.68 419.09 L1149.18 441.49 L1149.68 463.89 L1150.18 486.11 L1150.68 508.03 L1151.18 529.49 L1151.68 550.34 L1152.18 570.45 L1152.68 589.68 L1153.18 607.9 L1153.68 624.99 L1154.18 640.83 L1154.68 655.32 L1155.18 668.36 L1155.68 679.85 L1156.18 689.74 L1156.68 697.94 L1157.18 704.4 L1157.68 709.09 L1158.18 711.96 L1158.68 713 L1159.18 712.2 L1159.68 709.56 L1160.18 705.11 L1160.68 698.88 L1161.18 690.9 L1161.68 681.23 L1162.18 669.94 L1162.68 657.1 L1163.18 642.79 L1163.68 627.12 L1164.18 610.19 L1164.68 592.11 L1165.18 573 L1165.68 553 L1166.18 532.24 L1166.68 510.85 L1167.18 488.98 L1167.68 466.79 L1168.18 444.41 L1168.68 422 L1169.18 399.71 L1169.68 377.68 L1170.18 356.08 L1170.68 335.03 L1171.18 314.7 L1171.68 295.2 L1172.18 276.67 L1172.68 259.24 L1173.18 243.03 L1173.68 228.14 L1174.18 214.67 L1174.68 202.72 L1175.18 192.36 L1175.68 183.66 L1176.18 176.69 L1176.68 171.49 L1177.18 168.09 L1177.68 166.52 L1178.18 166.78 L1178.68 168.89 L1179.18 172.81 L1179.68 178.53 L1180.18 186.01 L1180.68 195.19 L1181.18 206.02 L1181.68 218.42 L1182.18 232.31 L1182.68 247.6 L1183.18 264.18 L1183.68 281.94 L1184.18 300.76 L1184.68 320.51 L1185.18 341.07 L1185.68 362.29 L1186.18 384.03 L1186.68 406.15 L1187.18 428.49 L1187.68 450.91 L1188.18 473.25 L1188.68 495.37 L1189.18 517.11 L1189.68 538.33 L1190.18 558.89 L1190.68 578.64 L1191.18 597.46 L1191.68 615.22 L1192.18 631.8 L1192.68 647.09 L1193.18 660.98 L1193.68 673.38 L1194.18 684.21 L1194.68 693.39 L1195.18 700.87 L1195.68 706.59 L1196.18 710.51 L1196.68 712.62 L1197.18 712.88 L1197.68 711.31 L1198.18 707.91 L1198.68 702.71 L1199.18 695.74 L1199.68 687.04 L1200.18 676.68 L1200.68 664.73 L1201.18 651.26 L1201.68 636.37 L1202.18 620.16 L1202.68 602.73 L1203.18 584.2 L1203.68 564.7 L1204.18 544.37 L1204.68 523.32 L1205.18 501.72 L1205.68 479.69 L1206.18 457.4 L1206.68 434.99 L1207.18 412.61 L1207.68 390.42 L1208.18 368.55 L1208.68 347.16 L1209.18 326.4 L1209.68 306.4 L1210.18 287.29 L1210.68 269.21 L1211.18 252.28 L1211.68 236.61 L1212.18 222.3 L1212.68 209.46 L1213.18 198.17 L1213.68 188.5 L1214.18 180.52 L1214.68 174.29 L1215.18 169.84 L1215.68 167.2 L1216.18 166.4 L1216.68 167.44 L1217.18 170.31 L1217.68 175 L1218.18 181.46 L1218.68 189.66 L1219.18 199.55 L1219.68 211.04 L1220.18 224.08 L1220.68 238.57 L1221.18 254.41 L1221.68 271.5 L1222.18 289.72 L1222.68 308.95 L1223.18 329.06 L1223.68 349.91 L1224.18 371.37 L1224.68 393.29 L1225.18 415.51 L1225.68 437.91 L1226.18 460.31 L1226.68 482.58 L1227.18 504.55 L1227.68 526.09 L1228.18 547.05 L1228.68 567.29 L1229.18 586.67 L1229.68 605.06 L1230.18 622.33 L1230.68 638.38 L1231.18 653.09 L1231.68 666.37 L1232.18 678.12 L1232.68 688.27 L1233.18 696.74 L1233.68 703.49 L1234.18 708.46 L1234.68 711.62 L1235.18 712.95 L1235.68 712.45 L1236.18 710.11 L1236.68 705.95 L1237.18 700 L1237.68 692.29 L1238.18 682.89 L1238.68 671.85 L1239.18 659.25 L1239.68 645.17 L1240.18 629.71 L1240.68 612.98 L1241.18 595.07 L1241.68 576.12 L1242.18 556.26 L1242.68 535.6 L1243.18 514.31 L1243.68 492.51 L1244.18 470.36 L1244.68 448 L1245.18 425.58 L1245.68 403.26 L1246.18 381.18 L1246.68 359.5 L1247.18 338.36 L1247.68 317.9 L1248.18 298.26 L1248.68 279.57 L1249.18 261.95 L1249.68 245.54 L1250.18 230.43 L1250.68 216.73 L1251.18 204.52 L1251.68 193.9 L1252.18 184.94 L1252.68 177.69 L1253.18 172.2 L1253.68 168.51 L1254.18 166.64 L1254.68 166.62 L1255.18 168.43 L1255.68 172.06 L1256.18 177.5 L1256.68 184.7 L1257.18 193.61 L1257.68 204.18 L1258.18 216.34 L1258.68 230 L1259.18 245.07 L1259.68 261.44 L1260.18 279.02 L1260.68 297.68 L1261.18 317.3 L1261.68 337.73 L1262.18 358.86 L1262.68 380.53 L1263.18 402.59 L1263.68 424.91 L1264.18 447.32 L1264.68 469.69 L1265.18 491.85 L1265.68 513.66 L1266.18 534.97 L1266.68 555.65 L1267.18 575.54 L1267.68 594.52 L1268.18 612.46 L1268.68 629.23 L1269.18 644.73 L1269.68 658.85 L1270.18 671.5 L1270.68 682.58 L1271.18 692.04 L1271.68 699.79 L1272.18 705.79 L1272.68 710.01 L1273.18 712.4 L1273.68 712.97 L1274.18 711.69 L1274.68 708.58 L1275.18 703.66 L1275.68 696.97 L1276.18 688.55 L1276.68 678.45 L1277.18 666.75 L1277.68 653.51 L1278.18 638.84 L1278.68 622.83 L1279.18 605.59 L1279.68 587.23 L1280.18 567.88 L1280.68 547.67 L1281.18 526.73 L1281.68 505.21 L1282.18 483.24 L1282.68 460.98 L1283.18 438.58 L1283.68 416.18 L1284.18 393.95 L1284.68 372.02 L1285.18 350.55 L1285.68 329.67 L1286.18 309.54 L1286.68 290.28 L1287.18 272.03 L1287.68 254.91 L1288.18 239.03 L1288.68 224.5 L1289.18 211.41 L1289.68 199.87 L1290.18 189.93 L1290.68 181.68 L1291.18 175.16 L1291.68 170.43 L1292.18 167.5 L1292.68 166.41 L1293.18 167.15 L1293.68 169.73 L1294.18 174.13 L1294.68 180.31 L1295.18 188.23 L1295.68 197.85 L1296.18 209.1 L1296.68 221.9 L1297.18 236.16 L1297.68 251.79 L1298.18 268.69 L1298.68 286.73 L1299.18 305.81 L1299.68 325.79 L1300.18 346.53 L1300.68 367.9 L1301.18 389.75 L1301.68 411.94 L1302.18 434.32 L1302.68 456.73 L1303.18 479.03 L1303.68 501.06 L1304.18 522.68 L1304.68 543.74 L1305.18 564.11 L1305.68 583.63 L1306.18 602.19 L1306.68 619.65 L1307.18 635.9 L1307.68 650.83 L1308.18 664.35 L1308.68 676.35 L1309.18 686.76 L1309.68 695.5 L1310.18 702.53 L1310.68 707.78 L1311.18 711.24 L1311.68 712.86 L1312.18 712.65 L1312.68 710.6 L1313.18 706.73 L1313.68 701.07 L1314.18 693.64 L1314.68 684.51 L1315.18 673.73 L1315.68 661.37 L1316.18 647.52 L1316.68 632.28 L1317.18 615.74 L1317.68 598.01 L1318.18 579.22 L1318.68 559.49 L1319.18 538.96 L1319.68 517.75 L1320.18 496.03 L1320.68 473.92 L1321.18 451.58 L1321.68 429.16 L1322.18 406.82 L1322.68 384.69 L1323.18 362.94 L1323.68 341.7 L1324.18 321.12 L1324.68 301.34 L1325.18 282.49 L1325.68 264.7 L1326.18 248.08 L1326.68 232.75 L1327.18 218.82 L1327.68 206.37 L1328.18 195.49 L1328.68 186.26 L1329.18 178.73 L1329.68 172.96 L1330.18 168.98 L1330.68 166.82 L1331.18 166.5 L1331.68 168.01 L1332.18 171.36 L1332.68 176.51 L1333.18 183.43 L1333.68 192.07 L1334.18 202.38 L1334.68 214.29 L1335.18 227.71 L1335.68 242.56 L1336.18 258.74 L1336.68 276.13 L1337.18 294.63 L1337.68 314.1 L1338.18 334.41 L1338.68 355.44 L1339.18 377.03 L1339.68 399.04 L1340.18 421.33 L1340.68 443.74 L1341.18 466.12 L1341.68 488.32 L1342.18 510.2 L1342.68 531.6 L1343.18 552.39 L1343.68 572.42 L1344.18 591.55 L1344.68 609.66 L1345.18 626.63 L1345.68 642.34 L1346.18 656.69 L1346.68 669.58 L1347.18 680.92 L1347.68 690.64 L1348.18 698.67 L1348.68 704.95 L1349.18 709.46 L1349.68 712.14 L1350.18 713 L1350.68 712.02 L1351.18 709.2 L1351.68 704.57 L1352.18 698.16 L1352.68 690.01 L1353.18 680.18 L1353.68 668.72 L1354.18 655.73 L1354.68 641.28 L1355.18 625.48 L1355.68 608.43 L1356.18 590.24 L1356.68 571.04 L1357.18 550.96 L1357.68 530.12 L1358.18 508.68 L1358.68 486.78 L1359.18 464.56 L1359.68 442.17 L1360.18 419.76 L1360.68 397.49 L1361.18 375.5 L1361.68 353.95 L1362.18 332.97 L1362.68 312.71 L1363.18 293.3 L1363.68 274.88 L1364.18 257.57 L1364.68 241.48 L1365.18 226.73 L1365.68 213.41 L1366.18 201.61 L1366.68 191.41 L1367.18 182.89 L1367.68 176.09 L1368.18 171.06 L1368.68 167.85 L1369.18 166.46 L1369.68 166.91 L1370.18 169.2 L1370.68 173.3 L1371.18 179.2 L1371.68 186.85 L1372.18 196.2 L1372.68 207.19 L1373.18 219.75 L1373.68 233.78 L1374.18 249.2 L1374.68 265.9 L1375.18 283.77 L1375.68 302.69 L1376.18 322.54 L1376.68 343.17 L1377.18 364.44 L1377.68 386.23 L1378.18 408.38 L1378.68 430.73 L1379.18 453.15 L1379.68 475.47 L1380.18 497.56 L1380.68 519.26 L1381.18 540.42 L1381.68 560.9 L1382.18 580.57 L1382.68 599.29 L1383.18 616.93 L1383.68 633.39 L1384.18 648.54 L1384.68 662.28 L1385.18 674.53 L1385.68 685.2 L1386.18 694.22 L1386.68 701.52 L1387.18 707.06 L1387.68 710.81 L1388.18 712.73 L1388.68 712.81 L1389.18 711.05 L1389.68 707.47 L1390.18 702.09 L1390.68 694.95 L1391.18 686.08 L1391.68 675.56 L1392.18 663.45 L1392.68 649.83 L1393.18 634.81 L1393.68 618.47 L1394.18 600.92 L1394.68 582.29 L1395.18 562.71 L1395.68 542.29 L1396.18 521.18 L1396.68 499.53 L1397.18 477.47 L1397.68 455.16 L1398.18 432.75 L1398.68 410.38 L1399.18 388.21 L1399.68 366.39 L1400.18 345.06 L1400.68 324.36 L1401.18 304.44 L1401.68 285.44 L1402.18 267.47 L1402.68 250.65 L1403.18 235.11 L1403.68 220.95 L1404.18 208.26 L1404.68 197.13 L1405.18 187.62 L1405.68 179.82 L1406.18 173.76 L1406.68 169.49 L1407.18 167.04 L1407.68 166.43 L1408.18 167.65 L1408.68 170.7 L1409.18 175.56 L1409.68 182.2 L1410.18 190.58 L1410.68 200.62 L1411.18 212.28 L1411.68 225.47 L1412.18 240.1 L1412.68 256.07 L1413.18 273.27 L1413.68 291.6 L1414.18 310.92 L1414.68 331.11 L1415.18 352.03 L1415.68 373.54 L1416.18 395.5 L1416.68 417.75 L1417.18 440.15 L1417.68 462.55 L1418.18 484.79 L1418.68 506.73 L1419.18 528.22 L1419.68 549.11 L1420.18 569.27 L1420.68 588.55 L1421.18 606.84 L1421.68 624 L1422.18 639.92 L1422.68 654.49 L1423.18 667.62 L1423.68 679.21 L1424.18 689.19 L1424.68 697.5 L1425.18 704.07 L1425.68 708.86 L1426.18 711.84 L1426.68 712.99 L1427.18 712.3 L1427.68 709.77 L1428.18 705.43 L1428.68 699.3 L1429.18 691.43 L1429.68 681.86 L1430.18 670.66 L1430.68 657.91 L1431.18 643.69 L1431.68 628.1" stroke="#000" stroke-width="3.6"/>
<path d="M230.18 439.7 L230.68 462.1 L231.18 484.35 L231.68 506.29 L232.18 527.79 L232.68 548.7 L233.18 568.87 L233.68 588.18 L234.18 606.48 L234.68 623.67 L235.18 639.61 L235.68 654.21 L236.18 667.37 L236.68 678.99 L237.18 689.01 L237.68 697.35 L238.18 703.95 L238.68 708.78 L239.18 711.79 L239.68 712.98 L240.18 712.33 L240.68 709.84 L241.18 705.54 L241.68 699.44 L242.18 691.6 L242.68 682.07 L243.18 670.9 L243.68 658.18 L244.18 643.99 L244.68 628.42 L245.18 611.59 L245.68 593.59 L246.18 574.57 L246.68 554.63 L247.18 533.92 L247.68 512.58 L248.18 490.75 L248.68 468.57 L249.18 446.2 L249.68 423.79 L250.18 401.48 L250.68 379.43 L251.18 357.79 L251.68 336.69 L252.18 316.29 L252.68 296.72 L253.18 278.12 L253.68 260.6 L254.18 244.28 L254.68 229.28 L255.18 215.69 L255.68 203.62 L256.18 193.13 L256.68 184.29 L257.18 177.18 L257.68 171.84 L258.18 168.29 L258.68 166.57 L259.18 166.69 L259.68 168.65 L260.18 172.43 L260.68 178.01 L261.18 185.35 L261.68 194.4 L262.18 205.1 L262.68 217.38 L263.18 231.15 L263.68 246.33 L264.18 262.81 L264.68 280.48 L265.18 299.22 L265.68 318.9 L266.18 339.4 L266.68 360.57 L267.18 382.28 L267.68 404.37 L268.18 426.7 L268.68 449.12 L269.18 471.47 L269.68 493.61 L270.18 515.39 L270.68 536.65 L271.18 557.27 L271.68 577.09 L272.18 595.99 L272.68 613.84 L273.18 630.52 L273.68 645.91 L274.18 659.92 L274.68 672.44 L275.18 683.4 L275.68 692.72 L276.18 700.33 L276.68 706.2 L277.18 710.27 L277.68 712.52 L278.18 712.93 L278.68 711.51 L279.18 708.25 L279.68 703.19 L280.18 696.36 L280.68 687.8 L281.18 677.57 L281.68 665.74 L282.18 652.39 L282.68 637.61 L283.18 621.5 L283.68 604.16 L284.18 585.72 L284.68 566.3 L285.18 546.02 L285.68 525.03 L286.18 503.46 L286.68 481.47 L287.18 459.19 L287.68 436.78 L288.18 414.4 L288.68 392.18 L289.18 370.28 L289.68 348.85 L290.18 328.03 L290.68 307.97 L291.18 288.78 L291.68 270.62 L292.18 253.59 L292.68 237.81 L293.18 223.4 L293.68 210.43 L294.18 199.01 L294.68 189.21 L295.18 181.1 L295.68 174.72 L296.18 170.13 L296.68 167.35 L297.18 166.4 L297.68 167.29 L298.18 170.02 L298.68 174.56 L299.18 180.88 L299.68 188.94 L300.18 198.69 L300.68 210.07 L301.18 222.98 L301.68 237.36 L302.18 253.1 L302.68 270.09 L303.18 288.22 L303.68 307.38 L304.18 327.42 L304.68 348.22 L305.18 369.63 L305.68 391.52 L306.18 413.73 L306.68 436.11 L307.18 458.52 L307.68 480.8 L308.18 502.81 L308.68 524.39 L309.18 545.4 L309.68 565.7 L310.18 585.15 L310.68 603.63 L311.18 621 L311.68 637.15 L312.18 651.97 L312.68 665.36 L313.18 677.24 L313.68 687.52 L314.18 696.13 L314.68 703.01 L315.18 708.13 L315.68 711.43 L316.18 712.91 L316.68 712.56 L317.18 710.36 L317.68 706.35 L318.18 700.54 L318.68 692.97 L319.18 683.7 L319.68 672.79 L320.18 660.32 L320.68 646.35 L321.18 631 L321.68 614.36 L322.18 596.55 L322.68 577.67 L323.18 557.88 L323.68 537.28 L324.18 516.03 L324.68 494.27 L325.18 472.14 L325.68 449.79 L326.18 427.37 L326.68 405.04 L327.18 382.94 L327.68 361.22 L328.18 340.03 L328.68 319.51 L329.18 299.79 L329.68 281.02 L330.18 263.32 L330.68 246.8 L331.18 231.59 L331.68 217.77 L332.18 205.44 L332.68 194.69 L333.18 185.59 L333.68 178.2 L334.18 172.57 L334.68 168.74 L335.18 166.73 L335.68 166.55 L336.18 168.21 L336.68 171.7 L337.18 177 L337.68 184.06 L338.18 192.84 L338.68 203.28 L339.18 215.31 L339.68 228.85 L340.18 243.81 L340.68 260.09 L341.18 277.57 L341.68 296.15 L342.18 315.69 L342.68 336.07 L343.18 357.15 L343.68 378.78 L344.18 400.82 L344.68 423.12 L345.18 445.53 L345.68 467.9 L346.18 490.09 L346.68 511.93 L347.18 533.29 L347.68 554.02 L348.18 573.98 L348.68 593.04 L349.18 611.06 L349.68 627.93 L350.18 643.54 L350.68 657.77 L351.18 670.54 L351.68 681.76 L352.18 691.34 L352.68 699.23 L353.18 705.38 L353.68 709.74 L354.18 712.28 L354.68 712.99 L355.18 711.86 L355.68 708.9 L356.18 704.12 L356.68 697.57 L357.18 689.28 L357.68 679.32 L358.18 667.74 L358.68 654.63 L359.18 640.07 L359.68 624.16 L360.18 607.01 L360.68 588.74 L361.18 569.46 L361.68 549.32 L362.18 528.43 L362.68 506.95 L363.18 485.01 L363.68 462.77 L364.18 440.37 L364.68 417.97 L365.18 395.72 L365.68 373.76 L366.18 352.24 L366.68 331.32 L367.18 311.12 L367.68 291.79 L368.18 273.45 L368.68 256.23 L369.18 240.25 L369.68 225.61 L370.18 212.4 L370.68 200.73 L371.18 190.67 L371.68 182.28 L372.18 175.62 L372.68 170.74 L373.18 167.67 L373.68 166.43 L374.18 167.03 L374.68 169.46 L375.18 173.71 L375.68 179.75 L376.18 187.54 L376.68 197.02 L377.18 208.14 L377.68 220.82 L378.18 234.97 L378.68 250.49 L379.18 267.29 L379.68 285.25 L380.18 304.25 L380.68 324.16 L381.18 344.85 L381.68 366.17 L382.18 387.99 L382.68 410.16 L383.18 432.53 L383.68 454.94 L384.18 477.25 L384.68 499.31 L385.18 520.97 L385.68 542.08 L386.18 562.51 L386.68 582.1 L387.18 600.74 L387.68 618.3 L388.18 634.65 L388.68 649.69 L389.18 663.32 L389.68 675.44 L390.18 685.98 L390.68 694.86 L391.18 702.03 L391.68 707.43 L392.18 711.03 L392.68 712.8 L393.18 712.74 L393.68 710.84 L394.18 707.11 L394.68 701.59 L395.18 694.3 L395.68 685.3 L396.18 674.65 L396.68 662.41 L397.18 648.68 L397.68 633.55 L398.18 617.1 L398.68 599.47 L399.18 580.76 L399.68 561.1 L400.18 540.63 L400.68 519.47 L401.18 497.78 L401.68 475.7 L402.18 453.37 L402.68 430.96 L403.18 408.6 L403.68 386.45 L404.18 364.66 L404.68 343.38 L405.18 322.74 L405.68 302.89 L406.18 283.96 L406.68 266.08 L407.18 249.36 L407.68 233.93 L408.18 219.88 L408.68 207.31 L409.18 196.31 L409.68 186.94 L410.18 179.27 L410.68 173.35 L411.18 169.23 L411.68 166.92 L412.18 166.46 L412.68 167.82 L413.18 171.02 L413.68 176.03 L414.18 182.81 L414.68 191.32 L415.18 201.5 L415.68 213.28 L416.18 226.59 L416.68 241.33 L417.18 257.4 L417.68 274.7 L418.18 293.11 L418.68 312.51 L419.18 332.76 L419.68 353.73 L420.18 375.28 L420.68 397.27 L421.18 419.54 L421.68 441.94 L422.18 464.33 L422.68 486.56 L423.18 508.47 L423.68 529.91 L424.18 550.75 L424.68 570.84 L425.18 590.05 L425.68 608.25 L426.18 625.32 L426.68 641.13 L427.18 655.59 L427.68 668.6 L428.18 680.07 L428.68 689.92 L429.18 698.09 L429.68 704.51 L430.18 709.16 L430.68 712 L431.18 713 L431.68 712.16 L432.18 709.49 L432.68 705.01 L433.18 698.74 L433.68 690.72 L434.18 681.02 L434.68 669.7 L435.18 656.82 L435.68 642.49 L436.18 626.79 L436.68 609.84 L437.18 591.74 L437.68 572.61 L438.18 552.59 L438.68 531.81 L439.18 510.42 L439.68 488.54 L440.18 466.34 L440.68 443.96 L441.18 421.55 L441.68 399.26 L442.18 377.25 L442.68 355.65 L443.18 334.62 L443.68 314.3 L444.18 294.82 L444.68 276.31 L445.18 258.91 L445.68 242.72 L446.18 227.86 L446.68 214.42 L447.18 202.49 L447.68 192.17 L448.18 183.51 L448.68 176.57 L449.18 171.4 L449.68 168.04 L450.18 166.5 L450.68 166.81 L451.18 168.95 L451.68 172.91 L452.18 178.66 L452.68 186.18 L453.18 195.39 L453.68 206.26 L454.18 218.69 L454.68 232.61 L455.18 247.92 L455.68 264.52 L456.18 282.3 L456.68 301.14 L457.18 320.92 L457.68 341.49 L458.18 362.72 L458.68 384.47 L459.18 406.59 L459.68 428.94 L460.18 451.36 L460.68 473.7 L461.18 495.81 L461.68 517.54 L462.18 538.75 L462.68 559.29 L463.18 579.03 L463.68 597.83 L464.18 615.56 L464.68 632.12 L465.18 647.38 L465.68 661.24 L466.18 673.61 L466.68 684.41 L467.18 693.56 L467.68 701 L468.18 706.69 L468.68 710.57 L469.18 712.64 L469.68 712.87 L470.18 711.26 L470.68 707.83 L471.18 702.59 L471.68 695.58 L472.18 686.85 L472.68 676.46 L473.18 664.47 L473.68 650.98 L474.18 636.06 L474.68 619.82 L475.18 602.37 L475.68 583.82 L476.18 564.3 L476.68 543.95 L477.18 522.9 L477.68 501.28 L478.18 479.25 L478.68 456.95 L479.18 434.54 L479.68 412.17 L480.18 389.97 L480.68 368.12 L481.18 346.74 L481.68 325.99 L482.18 306.01 L482.68 286.92 L483.18 268.86 L483.68 251.95 L484.18 236.31 L484.68 222.03 L485.18 209.22 L485.68 197.96 L486.18 188.32 L486.68 180.38 L487.18 174.18 L487.68 169.77 L488.18 167.17 L488.68 166.41 L489.18 167.48 L489.68 170.39 L490.18 175.11 L490.68 181.61 L491.18 189.84 L491.68 199.76 L492.18 211.29 L492.68 224.36 L493.18 238.87 L493.68 254.74 L494.18 271.85 L494.68 290.1 L495.18 309.34 L495.68 329.47 L496.18 350.33 L496.68 371.8 L497.18 393.73 L497.68 415.96 L498.18 438.35 L498.68 460.76 L499.18 483.02 L499.68 504.99 L500.18 526.52 L500.68 547.46 L501.18 567.69 L501.68 587.05 L502.18 605.41 L502.68 622.67 L503.18 638.69 L503.68 653.37 L504.18 666.62 L504.68 678.34 L505.18 688.45 L505.68 696.9 L506.18 703.61 L506.68 708.54 L507.18 711.67 L507.68 712.96 L508.18 712.42 L508.68 710.04 L509.18 705.85 L509.68 699.86 L510.18 692.12 L510.68 682.69 L511.18 671.62 L511.68 658.98 L512.18 644.88 L512.68 629.39 L513.18 612.63 L513.68 594.7 L514.18 575.73 L514.68 555.85 L515.18 535.18 L515.68 513.88 L516.18 492.07 L516.68 469.91 L517.18 447.55 L517.68 425.13 L518.18 402.81 L518.68 380.74 L519.18 359.07 L519.68 337.94 L520.18 317.5 L520.68 297.87 L521.18 279.2 L521.68 261.61 L522.18 245.22 L522.68 230.14 L523.18 216.47 L523.68 204.3 L524.18 193.71 L524.68 184.78 L525.18 177.56 L525.68 172.11 L526.18 168.45 L526.68 166.63 L527.18 166.63 L527.68 168.48 L528.18 172.15 L528.68 177.62 L529.18 184.86 L529.68 193.81 L530.18 204.41 L530.68 216.6 L531.18 230.28 L531.68 245.38 L532.18 261.78 L532.68 279.39 L533.18 298.06 L533.68 317.7 L534.18 338.15 L534.68 359.29 L535.18 380.96 L535.68 403.04 L536.18 425.36 L536.68 447.77 L537.18 470.13 L537.68 492.29 L538.18 514.09 L538.68 535.39 L539.18 556.05 L539.68 575.93 L540.18 594.89 L540.68 612.8 L541.18 629.55 L541.68 645.03 L542.18 659.12 L542.68 671.73 L543.18 682.79 L543.68 692.21 L544.18 699.93 L544.68 705.9 L545.18 710.07 L545.68 712.43 L546.18 712.96 L546.68 711.64 L547.18 708.5 L547.68 703.55 L548.18 696.82 L548.68 688.36 L549.18 678.23 L549.68 666.5 L550.18 653.23 L550.68 638.54 L551.18 622.5 L551.68 605.24 L552.18 586.86 L552.68 567.49 L553.18 547.26 L553.68 526.31 L554.18 504.77 L554.68 482.8 L555.18 460.53 L555.68 438.13 L556.18 415.74 L556.68 393.51 L557.18 371.59 L557.68 350.12 L558.18 329.26 L558.68 309.15 L559.18 289.91 L559.68 271.68 L560.18 254.58 L560.68 238.72 L561.18 224.22 L561.68 211.17 L562.18 199.65 L562.68 189.75 L563.18 181.53 L563.68 175.05 L564.18 170.35 L564.68 167.46 L565.18 166.41 L565.68 167.19 L566.18 169.8 L566.68 174.23 L567.18 180.45 L567.68 188.41 L568.18 198.06 L568.68 209.34 L569.18 222.17 L569.68 236.46 L570.18 252.12 L570.68 269.04 L571.18 287.11 L571.68 306.2 L572.18 326.19 L572.68 346.95 L573.18 368.33 L573.68 390.19 L574.18 412.39 L574.68 434.77 L575.18 457.18 L575.68 479.47 L576.18 501.5 L576.68 523.11 L577.18 544.16 L577.68 564.5 L578.18 584.01 L578.68 602.55 L579.18 619.99 L579.68 636.21 L580.18 651.12 L580.68 664.6 L581.18 676.57 L581.68 686.95 L582.18 695.66 L582.68 702.65 L583.18 707.87 L583.68 711.29 L584.18 712.88 L584.68 712.63 L585.18 710.54 L585.68 706.64 L586.18 700.94 L586.68 693.47 L587.18 684.31 L587.68 673.49 L588.18 661.11 L588.68 647.23 L589.18 631.96 L589.68 615.39 L590.18 597.65 L590.68 578.83 L591.18 559.09 L591.68 538.54 L592.18 517.32 L592.68 495.59 L593.18 473.47 L593.68 451.13 L594.18 428.72 L594.68 406.37 L595.18 384.25 L595.68 362.51 L596.18 341.28 L596.68 320.72 L597.18 300.95 L597.68 282.12 L598.18 264.35 L598.68 247.76 L599.18 232.46 L599.68 218.56 L600.18 206.14 L600.68 195.29 L601.18 186.09 L601.68 178.6 L602.18 172.86 L602.68 168.92 L603.18 166.79 L603.68 166.51 L604.18 168.06 L604.68 171.44 L605.18 176.63 L605.68 183.58 L606.18 192.26 L606.68 202.61 L607.18 214.54 L607.68 228 L608.18 242.87 L608.68 259.08 L609.18 276.49 L609.68 295.01 L610.18 314.5 L610.68 334.83 L611.18 355.86 L611.68 377.46 L612.18 399.48 L612.68 421.77 L613.18 444.18 L613.68 466.56 L614.18 488.76 L614.68 510.63 L615.18 532.03 L615.68 552.8 L616.18 572.81 L616.68 591.92 L617.18 610.01 L617.68 626.96 L618.18 642.64 L618.68 656.96 L619.18 669.82 L619.68 681.13 L620.18 690.81 L620.68 698.81 L621.18 705.06 L621.68 709.53 L622.18 712.18 L622.68 713 L623.18 711.98 L623.68 709.12 L624.18 704.46 L624.68 698.01 L625.18 689.83 L625.68 679.96 L626.18 668.48 L626.68 655.46 L627.18 640.98 L627.68 625.15 L628.18 608.08 L628.68 589.87 L629.18 570.65 L629.68 550.55 L630.18 529.7 L630.68 508.25 L631.18 486.34 L631.68 464.11 L632.18 441.72 L632.68 419.31 L633.18 397.05 L633.68 375.07 L634.18 353.52 L634.68 332.55 L635.18 312.31 L635.68 292.92 L636.18 274.52 L636.68 257.23 L637.18 241.17 L637.68 226.45 L638.18 213.15 L638.68 201.39 L639.18 191.22 L639.68 182.73 L640.18 175.97 L640.68 170.98 L641.18 167.8 L641.68 166.45 L642.18 166.94 L642.68 169.26 L643.18 173.4 L643.68 179.34 L644.18 187.02 L644.68 196.41 L645.18 207.43 L645.68 220.01 L646.18 234.08 L646.68 249.52 L647.18 266.25 L647.68 284.14 L648.18 303.08 L648.68 322.94 L649.18 343.59 L649.68 364.88 L650.18 386.67 L650.68 408.82 L651.18 431.18 L651.68 453.6 L652.18 475.92 L652.68 498 L653.18 519.69 L653.68 540.83 L654.18 561.3 L654.68 580.95 L655.18 599.65 L655.68 617.28 L656.18 633.7 L656.68 648.83 L657.18 662.54 L657.68 674.76 L658.18 685.4 L658.68 694.38 L659.18 701.65 L659.68 707.16 L660.18 710.86 L660.68 712.75 L661.18 712.79 L661.68 711 L662.18 707.38 L662.68 701.97 L663.18 694.78 L663.68 685.89 L664.18 675.33 L664.68 663.19 L665.18 649.55 L665.68 634.49 L666.18 618.13 L666.68 600.56 L667.18 581.91 L667.68 562.3 L668.18 541.87 L668.68 520.76 L669.18 499.09 L669.68 477.03 L670.18 454.72 L670.68 432.3 L671.18 409.94 L671.68 387.77 L672.18 365.96 L672.68 344.64 L673.18 323.96 L673.68 304.05 L674.18 285.07 L674.68 267.12 L675.18 250.33 L675.68 234.82 L676.18 220.68 L676.68 208.02 L677.18 196.92 L677.68 187.45 L678.18 179.68 L678.68 173.66 L679.18 169.42 L679.68 167.01 L680.18 166.43 L680.68 167.69 L681.18 170.78 L681.68 175.68 L682.18 182.35 L682.68 190.76 L683.18 200.84 L683.68 212.53 L684.18 225.75 L684.68 240.4 L685.18 256.4 L685.68 273.63 L686.18 291.98 L686.68 311.32 L687.18 331.52 L687.68 352.46 L688.18 373.98 L688.68 395.94 L689.18 418.2 L689.68 440.6 L690.18 462.99 L690.68 485.23 L691.18 507.16 L691.68 528.64 L692.18 549.52 L692.68 569.66 L693.18 588.93 L693.68 607.19 L694.18 624.33 L694.68 640.22 L695.18 654.77 L695.68 667.86 L696.18 679.43 L696.68 689.38 L697.18 697.64 L697.68 704.18 L698.18 708.93 L698.68 711.88 L699.18 712.99 L699.68 712.26 L700.18 709.7 L700.68 705.33 L701.18 699.16 L701.68 691.25 L702.18 681.65 L702.68 670.42 L703.18 657.64 L703.68 643.39 L704.18 627.77 L704.68 610.89 L705.18 592.85 L705.68 573.79 L706.18 553.82 L706.68 533.08 L707.18 511.72 L707.68 489.87 L708.18 467.68 L708.68 445.31 L709.18 422.89 L709.68 400.59 L710.18 378.56 L710.68 356.93 L711.18 335.86 L711.68 315.49 L712.18 295.96 L712.68 277.39 L713.18 259.92 L713.68 243.65 L714.18 228.71 L714.68 215.18 L715.18 203.16 L715.68 192.74 L716.18 183.98 L716.68 176.93 L717.18 171.66 L717.68 168.19 L718.18 166.54 L718.68 166.74 L719.18 168.77 L719.68 172.62 L720.18 178.27 L720.68 185.68 L721.18 194.79 L721.68 205.56 L722.18 217.9 L722.68 231.73 L723.18 246.96 L723.68 263.49 L724.18 281.21 L724.68 299.99 L725.18 319.71 L725.68 340.24 L726.18 361.43 L726.68 383.16 L727.18 405.26 L727.68 427.6 L728.18 450.01 L728.68 472.36 L729.18 494.49 L729.68 516.25 L730.18 537.49 L730.68 558.08 L731.18 577.87 L731.68 596.73 L732.18 614.53 L732.68 631.16 L733.18 646.5 L733.68 660.45 L734.18 672.91 L734.68 683.8 L735.18 693.06 L735.68 700.6 L736.18 706.4 L736.68 710.39 L737.18 712.57 L737.68 712.91 L738.18 711.41 L738.68 708.08 L739.18 702.95 L739.68 696.05 L740.18 687.42 L740.68 677.13 L741.18 665.24 L741.68 651.83 L742.18 636.99 L742.68 620.83 L743.18 603.45 L743.68 584.96 L744.18 565.5 L744.68 545.19 L745.18 524.18 L745.68 502.59 L746.18 480.58 L746.68 458.3 L747.18 435.89 L747.68 413.5 L748.18 391.3 L748.68 369.42 L749.18 348.01 L749.68 327.22 L750.18 307.18 L750.68 288.04 L751.18 269.91 L751.68 252.93 L752.18 237.21 L752.68 222.85 L753.18 209.95 L753.68 198.59 L754.18 188.85 L754.68 180.81 L755.18 174.5 L755.68 169.98 L756.18 167.27 L756.68 166.4 L757.18 167.37 L757.68 170.16 L758.18 174.77 L758.68 181.17 L759.18 189.3 L759.68 199.12 L760.18 210.55 L760.68 223.53 L761.18 237.96 L761.68 253.75 L762.18 270.79 L762.68 288.97 L763.18 308.16 L763.68 328.24 L764.18 349.06 L764.68 370.5 L765.18 392.4 L765.68 414.62 L766.18 437.01 L766.68 459.42 L767.18 481.69 L767.68 503.68 L768.18 525.24 L768.68 546.23 L769.18 566.49 L769.68 585.91 L770.18 604.34 L770.68 621.67 L771.18 637.77 L771.68 652.53 L772.18 665.87 L772.68 677.68 L773.18 687.89 L773.68 696.44 L774.18 703.25 L774.68 708.29 L775.18 711.53 L775.68 712.94 L776.18 712.5 L776.68 710.24 L777.18 706.15 L777.68 700.27 L778.18 692.63 L778.68 683.3 L779.18 672.32 L779.68 659.79 L780.18 645.77 L780.68 630.36 L781.18 613.67 L781.68 595.81 L782.18 576.9 L782.68 557.07 L783.18 536.44 L783.68 515.17 L784.18 493.39 L784.68 471.25 L785.18 448.89 L785.68 426.48 L786.18 404.15 L786.68 382.06 L787.18 360.36 L787.68 339.19 L788.18 318.7 L788.68 299.02 L789.18 280.29 L789.68 262.64 L790.18 246.17 L790.68 231.01 L791.18 217.25 L791.68 204.98 L792.18 194.3 L792.68 185.26 L793.18 177.94 L793.68 172.38 L794.18 168.62 L794.68 166.68 L795.18 166.58 L795.68 168.32 L796.18 171.88 L796.68 177.24 L797.18 184.37 L797.68 193.22 L798.18 203.73 L798.68 215.82 L799.18 229.42 L799.68 244.44 L800.18 260.77 L800.68 278.3 L801.18 296.92 L801.68 316.49 L802.18 336.9 L802.68 358 L803.18 379.65 L803.68 401.7 L804.18 424.01 L804.68 446.43 L805.18 468.8 L805.68 490.97 L806.18 512.8 L806.68 534.13 L807.18 554.83 L807.68 574.76 L808.18 593.78 L808.68 611.76 L809.18 628.58 L809.68 644.14 L810.18 658.31 L810.68 671.02 L811.18 682.17 L811.68 691.69 L812.18 699.51 L812.68 705.59 L813.18 709.87 L813.68 712.34 L814.18 712.98 L814.68 711.77 L815.18 708.74 L815.68 703.89 L816.18 697.27 L816.68 688.92 L817.18 678.89 L817.68 667.24 L818.18 654.07 L818.68 639.46 L819.18 623.5 L819.68 606.3 L820.18 587.99 L820.68 568.67 L821.18 548.49 L821.68 527.58 L822.18 506.08 L822.68 484.12 L823.18 461.87 L823.68 439.48 L824.18 417.08 L824.68 394.83 L825.18 372.89 L825.68 351.4 L826.18 330.5 L826.68 310.33 L827.18 291.04 L827.68 272.74 L828.18 255.57 L828.68 239.64 L829.18 225.05 L829.68 211.91 L830.18 200.3 L830.68 190.3 L831.18 181.98 L831.68 175.39 L832.18 170.58 L832.68 167.58 L833.18 166.42 L833.68 167.09 L834.18 169.59 L834.68 173.92 L835.18 180.03 L835.68 187.88 L836.18 197.44 L836.68 208.62 L837.18 221.36 L837.68 235.56 L838.18 251.14 L838.68 267.99 L839.18 285.99 L839.68 305.03 L840.18 324.97 L840.68 345.69 L841.18 367.04 L841.68 388.87 L842.18 411.05 L842.68 433.42 L843.18 455.84 L843.68 478.14 L844.18 500.19 L844.68 521.83 L845.18 542.91 L845.68 563.31 L846.18 582.87 L846.68 601.46 L847.18 618.97 L847.68 635.28 L848.18 650.26 L848.68 663.83 L849.18 675.9 L849.68 686.37 L850.18 695.18 L850.68 702.28 L851.18 707.61 L851.68 711.13 L852.18 712.83 L852.68 712.7 L853.18 710.72 L853.68 706.92 L854.18 701.33 L854.68 693.97 L855.18 684.9 L855.68 674.19 L856.18 661.89 L856.68 648.1 L857.18 632.91 L857.68 616.42 L858.18 598.74 L858.68 579.99 L859.18 560.3 L859.68 539.79 L860.18 518.61 L860.68 496.9 L861.18 474.81 L861.68 452.48 L862.18 430.06 L862.68 407.71 L863.18 385.57 L863.68 363.8 L864.18 342.54 L864.68 321.93 L865.18 302.11 L865.68 283.22 L866.18 265.38 L866.68 248.72 L867.18 233.34 L867.68 219.35 L868.18 206.84 L868.68 195.9 L869.18 186.6 L869.68 179 L870.18 173.15 L870.68 169.1 L871.18 166.87 L871.68 166.47 L872.18 167.92 L872.68 171.19 L873.18 176.27 L873.68 183.12 L874.18 191.69 L874.68 201.94 L875.18 213.78 L875.68 227.15 L876.18 241.94 L876.68 258.07 L877.18 275.42 L877.68 293.87 L878.18 313.3 L878.68 333.59 L879.18 354.58 L879.68 376.16 L880.18 398.15 L880.68 420.43 L881.18 442.84 L881.68 465.23 L882.18 487.44 L882.68 509.33 L883.18 530.76 L883.68 551.57 L884.18 571.63 L884.68 590.8 L885.18 608.96 L885.68 625.97 L886.18 641.74 L886.68 656.14 L887.18 669.09 L887.68 680.49 L888.18 690.28 L888.68 698.38 L889.18 704.74 L889.68 709.31 L890.18 712.07 L890.68 713 L891.18 712.09 L891.68 709.35 L892.18 704.79 L892.68 698.45 L893.18 690.37 L893.68 680.6 L894.18 669.21 L894.68 656.28 L895.18 641.89 L895.68 626.14 L896.18 609.13 L896.68 590.99 L897.18 571.83 L897.68 551.78 L898.18 530.97 L898.68 509.55 L899.18 487.66 L899.68 465.45 L900.18 443.06 L900.68 420.66 L901.18 398.38 L901.68 376.37 L902.18 354.8 L902.68 333.79 L903.18 313.5 L903.68 294.06 L904.18 275.6 L904.68 258.24 L905.18 242.1 L905.68 227.29 L906.18 213.91 L906.68 202.05 L907.18 191.79 L907.68 183.19 L908.18 176.33 L908.68 171.23 L909.18 167.94 L909.68 166.48 L910.18 166.86 L910.68 169.07 L911.18 173.1 L911.68 178.93 L912.18 186.51 L912.68 195.8 L913.18 206.72 L913.68 219.22 L914.18 233.19 L914.68 248.56 L915.18 265.21 L915.68 283.04 L916.18 301.92 L916.68 321.73 L917.18 342.33 L917.68 363.58 L918.18 385.35 L918.68 407.49 L919.18 429.84 L919.68 452.25 L920.18 474.59 L920.68 496.68 L921.18 518.4 L921.68 539.58 L922.18 560.1 L922.68 579.8 L923.18 598.56 L923.68 616.25 L924.18 632.75 L924.68 647.96 L925.18 661.76 L925.68 674.07 L926.18 684.8 L926.68 693.89 L927.18 701.26 L927.68 706.88 L928.18 710.69 L928.68 712.69 L929.18 712.84 L929.68 711.16 L930.18 707.65 L930.68 702.34 L931.18 695.26 L931.68 686.47 L932.18 676.01 L932.68 663.96 L933.18 650.41 L933.68 635.43 L934.18 619.14 L934.68 601.65 L935.18 583.06 L935.68 563.51 L936.18 543.12 L936.68 522.04 L937.18 500.41 L937.68 478.36 L938.18 456.06 L938.68 433.65 L939.18 411.27 L939.68 389.09 L940.18 367.25 L940.68 345.9 L941.18 325.18 L941.68 305.22 L942.18 286.18 L942.68 268.16 L943.18 251.3 L943.68 235.71 L944.18 221.49 L944.68 208.74 L945.18 197.54 L945.68 187.97 L946.18 180.1 L946.68 173.97 L947.18 169.63 L947.68 167.1 L948.18 166.41 L948.68 167.56 L949.18 170.54 L949.68 175.33 L950.18 181.9 L950.68 190.21 L951.18 200.19 L951.68 211.78 L952.18 224.91 L952.68 239.48 L953.18 255.4 L953.68 272.56 L954.18 290.85 L954.68 310.13 L955.18 330.29 L955.68 351.18 L956.18 372.67 L956.68 394.61 L957.18 416.85 L957.68 439.25 L958.18 461.65 L958.68 483.9 L959.18 505.86 L959.68 527.37 L960.18 548.29 L960.68 568.48 L961.18 587.8 L961.68 606.13 L962.18 623.33 L962.68 639.3 L963.18 653.93 L963.68 667.12 L964.18 678.78 L964.68 688.82 L965.18 697.2 L965.68 703.84 L966.18 708.7 L966.68 711.75 L967.18 712.97 L967.68 712.36 L968.18 709.91 L968.68 705.64 L969.18 699.58 L969.68 691.78 L970.18 682.27 L970.68 671.14 L971.18 658.45 L971.68 644.29 L972.18 628.75 L972.68 611.93 L973.18 593.96 L973.68 574.96 L974.18 555.04 L974.68 534.34 L975.18 513.01 L975.68 491.19 L976.18 469.02 L976.68 446.65 L977.18 424.24 L977.68 401.93 L978.18 379.87 L978.68 358.22 L979.18 337.11 L979.68 316.69 L980.18 297.11 L980.68 278.48 L981.18 260.93 L981.68 244.59 L982.18 229.57 L982.68 215.95 L983.18 203.84 L983.68 193.32 L984.18 184.45 L984.68 177.31 L985.18 171.93 L985.68 168.35 L986.18 166.59 L986.68 166.67 L987.18 168.59 L987.68 172.34 L988.18 177.88 L988.68 185.18 L989.18 194.2 L989.68 204.87 L990.18 217.12 L990.68 230.86 L991.18 246.01 L991.68 262.47 L992.18 280.11 L992.68 298.83 L993.18 318.5 L993.68 338.98 L994.18 360.14 L994.68 381.84 L995.18 403.93 L995.68 426.25 L996.18 448.67 L996.68 471.02 L997.18 493.17 L997.68 514.96 L998.18 536.23 L998.68 556.86 L999.18 576.71 L999.68 595.63 L1000.18 613.5 L1000.68 630.2 L1001.18 645.62 L1001.68 659.65 L1002.18 672.21 L1002.68 683.2 L1003.18 692.55 L1003.68 700.2 L1004.18 706.1 L1004.68 710.2 L1005.18 712.49 L1005.68 712.94 L1006.18 711.55 L1006.68 708.34 L1007.18 703.31 L1007.68 696.51 L1008.18 687.99 L1008.68 677.79 L1009.18 665.99 L1009.68 652.67 L1010.18 637.92 L1010.68 621.83 L1011.18 604.52 L1011.68 586.1 L1012.18 566.69 L1012.68 546.43 L1013.18 525.45 L1013.68 503.9 L1014.18 481.91 L1014.68 459.64 L1015.18 437.23 L1015.68 414.84 L1016.18 392.62 L1016.68 370.72 L1017.18 349.28 L1017.68 328.44 L1018.18 308.36 L1018.68 289.16 L1019.18 270.97 L1019.68 253.92 L1020.18 238.12 L1020.68 223.67 L1021.18 210.68 L1021.68 199.22 L1022.18 189.39 L1022.68 181.24 L1023.18 174.83 L1023.68 170.2 L1024.18 167.38 L1024.68 166.4 L1025.18 167.26 L1025.68 169.94 L1026.18 174.45 L1026.68 180.73 L1027.18 188.76 L1027.68 198.48 L1028.18 209.82 L1028.68 222.71 L1029.18 237.06 L1029.68 252.77 L1030.18 269.74 L1030.68 287.85 L1031.18 306.98 L1031.68 327.01 L1032.18 347.8 L1032.68 369.2 L1033.18 391.08 L1033.68 413.28 L1034.18 435.66 L1034.68 458.07 L1035.18 480.36 L1035.68 502.37 L1036.18 523.96 L1036.68 544.99 L1037.18 565.3 L1037.68 584.77 L1038.18 603.27 L1038.68 620.66 L1039.18 636.84 L1039.68 651.69 L1040.18 665.11 L1040.68 677.02 L1041.18 687.33 L1041.68 695.97 L1042.18 702.89 L1042.68 708.04 L1043.18 711.39 L1043.68 712.9 L1044.18 712.58 L1044.68 710.42 L1045.18 706.44 L1045.68 700.67 L1046.18 693.14 L1046.68 683.91 L1047.18 673.03 L1047.68 660.58 L1048.18 646.65 L1048.68 631.32 L1049.18 614.7 L1049.68 596.91 L1050.18 578.06 L1050.68 558.28 L1051.18 537.7 L1051.68 516.46 L1052.18 494.71 L1052.68 472.58 L1053.18 450.24 L1053.68 427.82 L1054.18 405.48 L1054.68 383.37 L1055.18 361.65 L1055.68 340.44 L1056.18 319.91 L1056.68 300.18 L1057.18 281.39 L1057.68 263.66 L1058.18 247.12 L1058.68 231.88 L1059.18 218.03 L1059.68 205.67 L1060.18 194.89 L1060.68 185.76 L1061.18 178.33 L1061.68 172.67 L1062.18 168.8 L1062.68 166.75 L1063.18 166.54 L1063.68 168.16 L1064.18 171.62 L1064.68 176.87 L1065.18 183.9 L1065.68 192.64 L1066.18 203.05 L1066.68 215.05 L1067.18 228.57 L1067.68 243.5 L1068.18 259.75 L1068.68 277.21 L1069.18 295.77 L1069.68 315.29 L1070.18 335.66 L1070.68 356.72 L1071.18 378.34 L1071.68 400.37 L1072.18 422.67 L1072.68 445.08 L1073.18 467.46 L1073.68 489.65 L1074.18 511.5 L1074.68 532.87 L1075.18 553.61 L1075.68 573.59 L1076.18 592.67 L1076.68 610.71 L1077.18 627.61 L1077.68 643.24 L1078.18 657.5 L1078.68 670.3 L1079.18 681.55 L1079.68 691.17 L1080.18 699.09 L1080.68 705.27 L1081.18 709.67 L1081.68 712.25 L1082.18 712.99 L1082.68 711.9 L1083.18 708.97 L1083.68 704.24 L1084.18 697.72 L1084.68 689.47 L1085.18 679.53 L1085.68 667.99 L1086.18 654.9 L1086.68 640.37 L1087.18 624.49 L1087.68 607.37 L1088.18 589.12 L1088.68 569.86 L1089.18 549.73 L1089.68 528.85 L1090.18 507.38 L1090.68 485.45 L1091.18 463.22 L1091.68 440.82 L1092.18 418.42 L1092.68 396.16 L1093.18 374.19 L1093.68 352.67 L1094.18 331.73 L1094.68 311.52 L1095.18 292.17 L1095.68 273.81 L1096.18 256.57 L1096.68 240.56 L1097.18 225.89 L1097.68 212.65 L1098.18 200.95 L1098.68 190.85 L1099.18 182.43 L1099.68 175.74 L1100.18 170.82 L1100.68 167.71 L1101.18 166.43 L1101.68 167 L1102.18 169.39 L1102.68 173.61 L1103.18 179.61 L1103.68 187.36 L1104.18 196.82 L1104.68 207.9 L1105.18 220.55 L1105.68 234.67 L1106.18 250.17 L1106.68 266.94 L1107.18 284.88 L1107.68 303.86 L1108.18 323.75 L1108.68 344.43 L1109.18 365.74 L1109.68 387.55 L1110.18 409.71 L1110.68 432.08 L1111.18 454.49 L1111.68 476.81 L1112.18 498.87 L1112.68 520.54 L1113.18 541.67 L1113.68 562.1 L1114.18 581.72 L1114.68 600.38 L1115.18 617.96 L1115.68 634.33 L1116.18 649.4 L1116.68 663.06 L1117.18 675.22 L1117.68 685.79 L1118.18 694.7 L1118.68 701.9 L1119.18 707.34 L1119.68 710.97 L1120.18 712.78 L1120.68 712.76 L1121.18 710.89 L1121.68 707.2 L1122.18 701.71 L1122.68 694.46 L1123.18 685.5 L1123.68 674.88 L1124.18 662.67 L1124.68 648.97 L1125.18 633.86 L1125.68 617.45 L1126.18 599.83 L1126.68 581.14 L1127.18 561.5 L1127.68 541.04 L1128.18 519.9 L1128.68 498.22 L1129.18 476.14 L1129.68 453.82 L1130.18 431.4 L1130.68 409.04 L1131.18 386.89 L1131.68 365.09 L1132.18 343.8 L1132.68 323.14 L1133.18 303.28 L1133.68 284.33 L1134.18 266.42 L1134.68 249.69 L1135.18 234.23 L1135.68 220.15 L1136.18 207.55 L1136.68 196.51 L1137.18 187.11 L1137.68 179.4 L1138.18 173.45 L1138.68 169.29 L1139.18 166.95 L1139.68 166.45 L1140.18 167.78 L1140.68 170.94 L1141.18 175.91 L1141.68 182.66 L1142.18 191.13 L1142.68 201.28 L1143.18 213.03 L1143.68 226.31 L1144.18 241.02 L1144.68 257.07 L1145.18 274.34 L1145.68 292.73 L1146.18 312.11 L1146.68 332.35 L1147.18 353.31 L1147.68 374.85 L1148.18 396.82 L1148.68 419.09 L1149.18 441.49 L1149.68 463.89 L1150.18 486.11 L1150.68 508.03 L1151.18 529.49 L1151.68 550.34 L1152.18 570.45 L1152.68 589.68 L1153.18 607.9 L1153.68 624.99 L1154.18 640.83 L1154.68 655.32 L1155.18 668.36 L1155.68 679.85 L1156.18 689.74 L1156.68 697.94 L1157.18 704.4 L1157.68 709.09 L1158.18 711.96 L1158.68 713 L1159.18 712.2 L1159.68 709.56 L1160.18 705.11 L1160.68 698.88 L1161.18 690.9 L1161.68 681.23 L1162.18 669.94 L1162.68 657.1 L1163.18 642.79 L1163.68 627.12 L1164.18 610.19 L1164.68 592.11 L1165.18 573 L1165.68 553 L1166.18 532.24 L1166.68 510.85 L1167.18 488.98 L1167.68 466.79 L1168.18 444.41 L1168.68 422 L1169.18 399.71 L1169.68 377.68 L1170.18 356.08 L1170.68 335.03 L1171.18 314.7 L1171.68 295.2 L1172.18 276.67 L1172.68 259.24 L1173.18 243.03 L1173.68 228.14 L1174.18 214.67 L1174.68 202.72 L1175.18 192.36 L1175.68 183.66 L1176.18 176.69 L1176.68 171.49 L1177.18 168.09 L1177.68 166.52 L1178.18 166.78 L1178.68 168.89 L1179.18 172.81 L1179.68 178.53 L1180.18 186.01 L1180.68 195.19 L1181.18 206.02 L1181.68 218.42 L1182.18 232.31 L1182.68 247.6 L1183.18 264.18 L1183.68 281.94 L1184.18 300.76 L1184.68 320.51 L1185.18 341.07 L1185.68 362.29 L1186.18 384.03 L1186.68 406.15 L1187.18 428.49 L1187.68 450.91 L1188.18 473.25 L1188.68 495.37 L1189.18 517.11 L1189.68 538.33 L1190.18 558.89 L1190.68 578.64 L1191.18 597.46 L1191.68 615.22 L1192.18 631.8 L1192.68 647.09 L1193.18 660.98 L1193.68 673.38 L1194.18 684.21 L1194.68 693.39 L1195.18 700.87 L1195.68 706.59 L1196.18 710.51 L1196.68 712.62 L1197.18 712.88 L1197.68 711.31 L1198.18 707.91 L1198.68 702.71 L1199.18 695.74 L1199.68 687.04 L1200.18 676.68 L1200.68 664.73 L1201.18 651.26 L1201.68 636.37 L1202.18 620.16 L1202.68 602.73 L1203.18 584.2 L1203.68 564.7 L1204.18 544.37 L1204.68 523.32 L1205.18 501.72 L1205.68 479.69 L1206.18 457.4 L1206.68 434.99 L1207.18 412.61 L1207.68 390.42 L1208.18 368.55 L1208.68 347.16 L1209.18 326.4 L1209.68 306.4 L1210.18 287.29 L1210.68 269.21 L1211.18 252.28 L1211.68 236.61 L1212.18 222.3 L1212.68 209.46 L1213.18 198.17 L1213.68 188.5 L1214.18 180.52 L1214.68 174.29 L1215.18 169.84 L1215.68 167.2 L1216.18 166.4 L1216.68 167.44 L1217.18 170.31 L1217.68 175 L1218.18 181.46 L1218.68 189.66 L1219.18 199.55 L1219.68 211.04 L1220.18 224.08 L1220.68 238.57 L1221.18 254.41 L1221.68 271.5 L1222.18 289.72 L1222.68 308.95 L1223.18 329.06 L1223.68 349.91 L1224.18 371.37 L1224.68 393.29 L1225.18 415.51 L1225.68 437.91 L1226.18 460.31 L1226.68 482.58 L1227.18 504.55 L1227.68 526.09 L1228.18 547.05 L1228.68 567.29 L1229.18 586.67 L1229.68 605.06 L1230.18 622.33 L1230.68 638.38 L1231.18 653.09 L1231.68 666.37 L1232.18 678.12 L1232.68 688.27 L1233.18 696.74 L1233.68 703.49 L1234.18 708.46 L1234.68 711.62 L1235.18 712.95 L1235.68 712.45 L1236.18 710.11 L1236.68 705.95 L1237.18 700 L1237.68 692.29 L1238.18 682.89 L1238.68 671.85 L1239.18 659.25 L1239.68 645.17 L1240.18 629.71 L1240.68 612.98 L1241.18 595.07 L1241.68 576.12 L1242.18 556.26 L1242.68 535.6 L1243.18 514.31 L1243.68 492.51 L1244.18 470.36 L1244.68 448 L1245.18 425.58 L1245.68 403.26 L1246.18 381.18 L1246.68 359.5 L1247.18 338.36 L1247.68 317.9 L1248.18 298.26 L1248.68 279.57 L1249.18 261.95 L1249.68 245.54 L1250.18 230.43 L1250.68 216.73 L1251.18 204.52 L1251.68 193.9 L1252.18 184.94 L1252.68 177.69 L1253.18 172.2 L1253.68 168.51 L1254.18 166.64 L1254.68 166.62 L1255.18 168.43 L1255.68 172.06 L1256.18 177.5 L1256.68 184.7 L1257.18 193.61 L1257.68 204.18 L1258.18 216.34 L1258.68 230 L1259.18 245.07 L1259.68 261.44 L1260.18 279.02 L1260.68 297.68 L1261.18 317.3 L1261.68 337.73 L1262.18 358.86 L1262.68 380.53 L1263.18 402.59 L1263.68 424.91 L1264.18 447.32 L1264.68 469.69 L1265.18 491.85 L1265.68 513.66 L1266.18 534.97 L1266.68 555.65 L1267.18 575.54 L1267.68 594.52 L1268.18 612.46 L1268.68 629.23 L1269.18 644.73 L1269.68 658.85 L1270.18 671.5 L1270.68 682.58 L1271.18 692.04 L1271.68 699.79 L1272.18 705.79 L1272.68 710.01 L1273.18 712.4 L1273.68 712.97 L1274.18 711.69 L1274.68 708.58 L1275.18 703.66 L1275.68 696.97 L1276.18 688.55 L1276.68 678.45 L1277.18 666.75 L1277.68 653.51 L1278.18 638.84 L1278.68 622.83 L1279.18 605.59 L1279.68 587.23 L1280.18 567.88 L1280.68 547.67 L1281.18 526.73 L1281.68 505.21 L1282.18 483.24 L1282.68 460.98 L1283.18 438.58 L1283.68 416.18 L1284.18 393.95 L1284.68 372.02 L1285.18 350.55 L1285.68 329.67 L1286.18 309.54 L1286.68 290.28 L1287.18 272.03 L1287.68 254.91 L1288.18 239.03 L1288.68 224.5 L1289.18 211.41 L1289.68 199.87 L1290.18 189.93 L1290.68 181.68 L1291.18 175.16 L1291.68 170.43 L1292.18 167.5 L1292.68 166.41 L1293.18 167.15 L1293.68 169.73 L1294.18 174.13 L1294.68 180.31 L1295.18 188.23 L1295.68 197.85 L1296.18 209.1 L1296.68 221.9 L1297.18 236.16 L1297.68 251.79 L1298.18 268.69 L1298.68 286.73 L1299.18 305.81 L1299.68 325.79 L1300.18 346.53 L1300.68 367.9 L1301.18 389.75 L1301.68 411.94 L1302.18 434.32 L1302.68 456.73 L1303.18 479.03 L1303.68 501.06 L1304.18 522.68 L1304.68 543.74 L1305.18 564.11 L1305.68 583.63 L1306.18 602.19 L1306.68 619.65 L1307.18 635.9 L1307.68 650.83 L1308.18 664.35 L1308.68 676.35 L1309.18 686.76 L1309.68 695.5 L1310.18 702.53 L1310.68 707.78 L1311.18 711.24 L1311.68 712.86 L1312.18 712.65 L1312.68 710.6 L1313.18 706.73 L1313.68 701.07 L1314.18 693.64 L1314.68 684.51 L1315.18 673.73 L1315.68 661.37 L1316.18 647.52 L1316.68 632.28 L1317.18 615.74 L1317.68 598.01 L1318.18 579.22 L1318.68 559.49 L1319.18 538.96 L1319.68 517.75 L1320.18 496.03 L1320.68 473.92 L1321.18 451.58 L1321.68 429.16 L1322.18 406.82 L1322.68 384.69 L1323.18 362.94 L1323.68 341.7 L1324.18 321.12 L1324.68 301.34 L1325.18 282.49 L1325.68 264.7 L1326.18 248.08 L1326.68 232.75 L1327.18 218.82 L1327.68 206.37 L1328.18 195.49 L1328.68 186.26 L1329.18 178.73 L1329.68 172.96 L1330.18 168.98 L1330.68 166.82 L1331.18 166.5 L1331.68 168.01 L1332.18 171.36 L1332.68 176.51 L1333.18 183.43 L1333.68 192.07 L1334.18 202.38 L1334.68 214.29 L1335.18 227.71 L1335.68 242.56 L1336.18 258.74 L1336.68 276.13 L1337.18 294.63 L1337.68 314.1 L1338.18 334.41 L1338.68 355.44 L1339.18 377.03 L1339.68 399.04 L1340.18 421.33 L1340.68 443.74 L1341.18 466.12 L1341.68 488.32 L1342.18 510.2 L1342.68 531.6 L1343.18 552.39 L1343.68 572.42 L1344.18 591.55 L1344.68 609.66 L1345.18 626.63 L1345.68 642.34 L1346.18 656.69 L1346.68 669.58 L1347.18 680.92 L1347.68 690.64 L1348.18 698.67 L1348.68 704.95 L1349.18 709.46 L1349.68 712.14 L1350.18 713 L1350.68 712.02 L1351.18 709.2 L1351.68 704.57 L1352.18 698.16 L1352.68 690.01 L1353.18 680.18 L1353.68 668.72 L1354.18 655.73 L1354.68 641.28 L1355.18 625.48 L1355.68 608.43 L1356.18 590.24 L1356.68 571.04 L1357.18 550.96 L1357.68 530.12 L1358.18 508.68 L1358.68 486.78 L1359.18 464.56 L1359.68 442.17 L1360.18 419.76 L1360.68 397.49 L1361.18 375.5 L1361.68 353.95 L1362.18 332.97 L1362.68 312.71 L1363.18 293.3 L1363.68 274.88 L1364.18 257.57 L1364.68 241.48 L1365.18 226.73 L1365.68 213.41 L1366.18 201.61 L1366.68 191.41 L1367.18 182.89 L1367.68 176.09 L1368.18 171.06 L1368.68 167.85 L1369.18 166.46 L1369.68 166.91 L1370.18 169.2 L1370.68 173.3 L1371.18 179.2 L1371.68 186.85 L1372.18 196.2 L1372.68 207.19 L1373.18 219.75 L1373.68 233.78 L1374.18 249.2 L1374.68 265.9 L1375.18 283.77 L1375.68 302.69 L1376.18 322.54 L1376.68 343.17 L1377.18 364.44 L1377.68 386.23 L1378.18 408.38 L1378.68 430.73 L1379.18 453.15 L1379.68 475.47 L1380.18 497.56 L1380.68 519.26 L1381.18 540.42 L1381.68 560.9 L1382.18 580.57 L1382.68 599.29 L1383.18 616.93 L1383.68 633.39 L1384.18 648.54 L1384.68 662.28 L1385.18 674.53 L1385.68 685.2 L1386.18 694.22 L1386.68 701.52 L1387.18 707.06 L1387.68 710.81 L1388.18 712.73 L1388.68 712.81 L1389.18 711.05 L1389.68 707.47 L1390.18 702.09 L1390.68 694.95 L1391.18 686.08 L1391.68 675.56 L1392.18 663.45 L1392.68 649.83 L1393.18 634.81 L1393.68 618.47 L1394.18 600.92 L1394.68 582.29 L1395.18 562.71 L1395.68 542.29 L1396.18 521.18 L1396.68 499.53 L1397.18 477.47 L1397.68 455.16 L1398.18 432.75 L1398.68 410.38 L1399.18 388.21 L1399.68 366.39 L1400.18 345.06 L1400.68 324.36 L1401.18 304.44 L1401.68 285.44 L1402.18 267.47 L1402.68 250.65 L1403.18 235.11 L1403.68 220.95 L1404.18 208.26 L1404.68 197.13 L1405.18 187.62 L1405.68 179.82 L1406.18 173.76 L1406.68 169.49 L1407.18 167.04 L1407.68 166.43 L1408.18 167.65 L1408.68 170.7 L1409.18 175.56 L1409.68 182.2 L1410.18 190.58 L1410.68 200.62 L1411.18 212.28 L1411.68 225.47 L1412.18 240.1 L1412.68 256.07 L1413.18 273.27 L1413.68 291.6 L1414.18 310.92 L1414.68 331.11 L1415.18 352.03 L1415.68 373.54 L1416.18 395.5 L1416.68 417.75 L1417.18 440.15 L1417.68 462.55 L1418.18 484.79 L1418.68 506.73 L1419.18 528.22 L1419.68 549.11 L1420.18 569.27 L1420.68 588.55 L1421.18 606.84 L1421.68 624 L1422.18 639.92 L1422.68 654.49 L1423.18 667.62 L1423.68 679.21 L1424.18 689.19 L1424.68 697.5 L1425.18 704.07 L1425.68 708.86 L1426.18 711.84 L1426.68 712.99 L1427.18 712.3 L1427.68 709.77 L1428.18 705.43 L1428.68 699.3 L1429.18 691.43 L1429.68 681.86 L1430.18 670.66 L1430.68 657.91 L1431.18 643.69 L1431.68 628.1" stroke="#F14040" stroke-width="3.5" stroke-linecap="round" stroke-dasharray="14 15" stroke-dashoffset="-8"/>
<path d="M230.18 439.7 L230.57 457.58 L230.97 475.39 L231.36 493.04 L231.75 510.46 L232.14 527.58 L232.54 544.33 L232.93 560.62 L233.32 576.4 L233.71 591.59 L234.11 606.14 L234.5 619.97 L234.89 633.02 L235.28 645.25 L235.68 656.6 L236.07 667.02 L236.46 676.47 L236.85 684.91 L237.25 692.29 L237.64 698.59 L238.03 703.78 L238.42 707.85 L238.82 710.76 L239.21 712.51 L239.6 713.1 L240.08 712.25 L240.56 709.72 L241.04 705.52 L241.52 699.67 L242 692.21 L242.48 683.19 L242.96 672.66 L243.44 660.69 L243.92 647.36 L244.4 632.73 L244.88 616.91 L245.36 599.99 L245.84 582.07 L246.32 563.27 L246.8 543.71 L247.28 523.49 L247.76 502.76 L248.24 481.63 L248.72 460.23 L249.2 438.7 L249.68 417.17 L250.16 395.77 L250.64 374.64 L251.12 353.91 L251.6 333.69 L252.08 314.13 L252.56 295.33 L253.04 277.41 L253.52 260.49 L254 244.67 L254.48 230.04 L254.96 216.71 L255.44 204.74 L255.92 194.21 L256.4 185.19 L256.88 177.73 L257.36 171.88 L257.84 167.68 L258.32 165.15 L258.8 164.3 L259.28 165.15 L259.75 167.69 L260.23 171.91 L260.7 177.77 L261.18 185.25 L261.65 194.3 L262.12 204.86 L262.6 216.87 L263.07 230.25 L263.55 244.92 L264.03 260.79 L264.5 277.76 L264.98 295.73 L265.45 314.59 L265.93 334.22 L266.4 354.49 L266.88 375.29 L267.35 396.49 L267.82 417.95 L268.3 439.55 L268.78 461.15 L269.25 482.61 L269.73 503.81 L270.2 524.61 L270.68 544.88 L271.15 564.51 L271.62 583.37 L272.1 601.34 L272.57 618.31 L273.05 634.18 L273.53 648.85 L274 662.23 L274.48 674.24 L274.95 684.8 L275.43 693.85 L275.9 701.33 L276.38 707.19 L276.85 711.41 L277.32 713.95 L277.8 714.8 L278.28 713.96 L278.76 711.45 L279.25 707.29 L279.73 701.49 L280.21 694.1 L280.69 685.16 L281.18 674.73 L281.66 662.87 L282.14 649.65 L282.62 635.16 L283.11 619.48 L283.59 602.72 L284.07 584.97 L284.56 566.34 L285.04 546.95 L285.52 526.92 L286 506.37 L286.49 485.43 L286.97 464.23 L287.45 442.9 L287.93 421.57 L288.42 400.37 L288.9 379.43 L289.38 358.88 L289.86 338.85 L290.35 319.46 L290.83 300.83 L291.31 283.08 L291.79 266.32 L292.28 250.64 L292.76 236.15 L293.24 222.93 L293.72 211.07 L294.21 200.64 L294.69 191.7 L295.17 184.31 L295.65 178.51 L296.14 174.35 L296.62 171.84 L297.1 171 L297.57 171.82 L298.04 174.27 L298.5 178.35 L298.97 184.02 L299.44 191.25 L299.91 199.99 L300.37 210.2 L300.84 221.8 L301.31 234.73 L301.78 248.91 L302.24 264.25 L302.71 280.65 L303.18 298.02 L303.65 316.24 L304.11 335.21 L304.58 354.8 L305.05 374.9 L305.52 395.39 L305.98 416.13 L306.45 437 L306.92 457.87 L307.38 478.61 L307.85 499.1 L308.32 519.2 L308.79 538.79 L309.25 557.76 L309.72 575.98 L310.19 593.35 L310.66 609.75 L311.12 625.09 L311.59 639.27 L312.06 652.2 L312.53 663.8 L313 674.01 L313.46 682.75 L313.93 689.98 L314.4 695.65 L314.87 699.73 L315.33 702.18 L315.8 703 L316.28 702.2 L316.76 699.81 L317.24 695.84 L317.72 690.31 L318.2 683.26 L318.68 674.74 L319.16 664.79 L319.64 653.48 L320.12 640.87 L320.6 627.05 L321.08 612.1 L321.56 596.11 L322.04 579.18 L322.52 561.42 L323 542.93 L323.48 523.83 L323.96 504.23 L324.44 484.26 L324.92 464.04 L325.4 443.7 L325.88 423.36 L326.36 403.14 L326.84 383.17 L327.32 363.57 L327.8 344.47 L328.28 325.98 L328.76 308.22 L329.24 291.29 L329.72 275.3 L330.2 260.35 L330.68 246.53 L331.16 233.92 L331.64 222.61 L332.12 212.66 L332.6 204.14 L333.08 197.09 L333.56 191.56 L334.04 187.59 L334.52 185.2 L335 184.4 L335.47 185.16 L335.94 187.45 L336.41 191.25 L336.88 196.53 L337.35 203.27 L337.82 211.42 L338.29 220.93 L338.76 231.74 L339.23 243.8 L339.7 257.01 L340.17 271.3 L340.64 286.59 L341.11 302.77 L341.58 319.76 L342.05 337.43 L342.52 355.69 L342.99 374.43 L343.46 393.52 L343.93 412.85 L344.4 432.3 L344.87 451.75 L345.34 471.08 L345.81 490.17 L346.28 508.91 L346.75 527.17 L347.22 544.84 L347.69 561.83 L348.16 578.01 L348.63 593.3 L349.1 607.59 L349.57 620.8 L350.04 632.86 L350.51 643.67 L350.98 653.18 L351.45 661.33 L351.92 668.07 L352.39 673.35 L352.86 677.15 L353.33 679.44 L353.8 680.2 L354.29 679.42 L354.78 677.08 L355.26 673.2 L355.75 667.81 L356.24 660.92 L356.73 652.6 L357.21 642.88 L357.7 631.83 L358.19 619.52 L358.68 606.02 L359.16 591.42 L359.65 575.81 L360.14 559.27 L360.62 541.92 L361.11 523.86 L361.6 505.21 L362.09 486.07 L362.57 466.57 L363.06 446.82 L363.55 426.95 L364.04 407.08 L364.53 387.33 L365.01 367.83 L365.5 348.69 L365.99 330.04 L366.48 311.98 L366.96 294.63 L367.45 278.09 L367.94 262.48 L368.43 247.88 L368.91 234.38 L369.4 222.07 L369.89 211.02 L370.38 201.3 L370.86 192.98 L371.35 186.09 L371.84 180.7 L372.32 176.82 L372.81 174.48 L373.3 173.7 L373.78 174.51 L374.26 176.95 L374.75 180.99 L375.23 186.62 L375.71 193.79 L376.19 202.47 L376.68 212.6 L377.16 224.11 L377.64 236.94 L378.12 251.01 L378.61 266.23 L379.09 282.5 L379.57 299.74 L380.06 317.82 L380.54 336.64 L381.02 356.08 L381.5 376.03 L381.99 396.36 L382.47 416.94 L382.95 437.65 L383.43 458.36 L383.92 478.94 L384.4 499.27 L384.88 519.22 L385.36 538.66 L385.85 557.48 L386.33 575.56 L386.81 592.8 L387.29 609.07 L387.78 624.29 L388.26 638.36 L388.74 651.19 L389.22 662.7 L389.71 672.83 L390.19 681.51 L390.67 688.68 L391.15 694.31 L391.64 698.35 L392.12 700.79 L392.6 701.6 L393.08 700.82 L393.56 698.48 L394.04 694.59 L394.52 689.19 L395 682.29 L395.48 673.95 L395.96 664.22 L396.44 653.16 L396.92 640.83 L397.4 627.31 L397.88 612.68 L398.36 597.04 L398.84 580.48 L399.32 563.1 L399.8 545.02 L400.28 526.33 L400.76 507.16 L401.24 487.63 L401.72 467.85 L402.2 447.95 L402.68 428.05 L403.16 408.27 L403.64 388.74 L404.12 369.57 L404.6 350.88 L405.08 332.8 L405.56 315.42 L406.04 298.86 L406.52 283.22 L407 268.59 L407.48 255.07 L407.96 242.74 L408.44 231.68 L408.92 221.95 L409.4 213.61 L409.88 206.71 L410.36 201.31 L410.84 197.42 L411.32 195.08 L411.8 194.3 L412.28 195.09 L412.75 197.45 L413.23 201.37 L413.7 206.81 L414.18 213.76 L414.65 222.17 L415.12 231.98 L415.6 243.13 L416.07 255.56 L416.55 269.19 L417.03 283.94 L417.5 299.7 L417.98 316.4 L418.45 333.91 L418.93 352.15 L419.4 370.98 L419.88 390.31 L420.35 410 L420.82 429.94 L421.3 450 L421.78 470.06 L422.25 490 L422.73 509.69 L423.2 529.02 L423.68 547.85 L424.15 566.09 L424.62 583.6 L425.1 600.3 L425.57 616.06 L426.05 630.81 L426.53 644.44 L427 656.87 L427.48 668.02 L427.95 677.83 L428.43 686.24 L428.9 693.19 L429.38 698.63 L429.85 702.55 L430.32 704.91 L430.8 705.7 L431.28 704.87 L431.76 702.4 L432.25 698.3 L432.73 692.58 L433.21 685.3 L433.69 676.49 L434.18 666.21 L434.66 654.52 L435.14 641.49 L435.62 627.2 L436.11 611.75 L436.59 595.23 L437.07 577.73 L437.56 559.37 L438.04 540.26 L438.52 520.52 L439 500.26 L439.49 479.62 L439.97 458.73 L440.45 437.7 L440.93 416.67 L441.42 395.78 L441.9 375.14 L442.38 354.88 L442.86 335.14 L443.35 316.03 L443.83 297.67 L444.31 280.17 L444.79 263.65 L445.28 248.2 L445.76 233.91 L446.24 220.88 L446.72 209.19 L447.21 198.91 L447.69 190.1 L448.17 182.82 L448.65 177.1 L449.14 173 L449.62 170.53 L450.1 169.7 L450.57 170.51 L451.04 172.94 L451.5 176.96 L451.97 182.57 L452.44 189.71 L452.91 198.35 L453.37 208.44 L453.84 219.91 L454.31 232.69 L454.78 246.7 L455.24 261.86 L455.71 278.07 L456.18 295.24 L456.65 313.25 L457.11 331.99 L457.58 351.36 L458.05 371.23 L458.52 391.47 L458.98 411.97 L459.45 432.6 L459.92 453.23 L460.38 473.73 L460.85 493.97 L461.32 513.84 L461.79 533.21 L462.25 551.95 L462.72 569.96 L463.19 587.13 L463.66 603.34 L464.12 618.5 L464.59 632.51 L465.06 645.29 L465.53 656.76 L466 666.85 L466.46 675.49 L466.93 682.63 L467.4 688.24 L467.87 692.26 L468.33 694.69 L468.8 695.5 L469.29 694.68 L469.78 692.21 L470.27 688.12 L470.76 682.42 L471.25 675.16 L471.74 666.38 L472.23 656.13 L472.72 644.47 L473.21 631.48 L473.7 617.24 L474.19 601.83 L474.68 585.36 L475.17 567.91 L475.66 549.61 L476.15 530.55 L476.64 510.87 L477.13 490.68 L477.62 470.1 L478.11 449.26 L478.6 428.3 L479.09 407.34 L479.58 386.5 L480.07 365.92 L480.56 345.73 L481.05 326.05 L481.54 306.99 L482.03 288.69 L482.52 271.24 L483.01 254.77 L483.5 239.36 L483.99 225.12 L484.48 212.13 L484.97 200.47 L485.46 190.22 L485.95 181.44 L486.44 174.18 L486.93 168.48 L487.42 164.39 L487.91 161.92 L488.4 161.1 L488.89 162 L489.38 164.69 L489.86 169.15 L490.35 175.36 L490.84 183.28 L491.32 192.86 L491.81 204.04 L492.3 216.75 L492.79 230.92 L493.27 246.45 L493.76 263.25 L494.25 281.22 L494.74 300.24 L495.22 320.21 L495.71 340.99 L496.2 362.45 L496.69 384.47 L497.17 406.91 L497.66 429.64 L498.15 452.5 L498.64 475.36 L499.12 498.09 L499.61 520.53 L500.1 542.55 L500.59 564.01 L501.07 584.79 L501.56 604.76 L502.05 623.78 L502.54 641.75 L503.02 658.55 L503.51 674.08 L504 688.25 L504.49 700.96 L504.97 712.14 L505.46 721.72 L505.95 729.64 L506.44 735.85 L506.92 740.31 L507.41 743 L507.9 743.9 L508.36 742.98 L508.82 740.24 L509.29 735.69 L509.75 729.36 L510.21 721.28 L510.67 711.51 L511.14 700.11 L511.6 687.15 L512.06 672.7 L512.52 656.87 L512.99 639.73 L513.45 621.41 L513.91 602.01 L514.38 581.65 L514.84 560.46 L515.3 538.57 L515.76 516.12 L516.23 493.23 L516.69 470.06 L517.15 446.75 L517.61 423.44 L518.07 400.27 L518.54 377.38 L519 354.93 L519.46 333.04 L519.92 311.85 L520.39 291.49 L520.85 272.09 L521.31 253.77 L521.77 236.63 L522.24 220.8 L522.7 206.35 L523.16 193.39 L523.62 181.99 L524.09 172.22 L524.55 164.14 L525.01 157.81 L525.48 153.26 L525.94 150.52 L526.4 149.6 L526.87 150.49 L527.34 153.16 L527.8 157.6 L528.27 163.76 L528.74 171.63 L529.2 181.14 L529.67 192.25 L530.14 204.87 L530.61 218.94 L531.08 234.36 L531.54 251.05 L532.01 268.89 L532.48 287.79 L532.94 307.62 L533.41 328.25 L533.88 349.57 L534.35 371.44 L534.82 393.73 L535.28 416.29 L535.75 439 L536.22 461.71 L536.68 484.27 L537.15 506.56 L537.62 528.43 L538.09 549.75 L538.56 570.38 L539.02 590.21 L539.49 609.11 L539.96 626.95 L540.42 643.64 L540.89 659.06 L541.36 673.13 L541.83 685.75 L542.3 696.86 L542.76 706.37 L543.23 714.24 L543.7 720.4 L544.16 724.84 L544.63 727.51 L545.1 728.4 L545.59 727.55 L546.08 724.99 L546.56 720.74 L547.05 714.83 L547.54 707.29 L548.02 698.17 L548.51 687.53 L549 675.43 L549.49 661.95 L549.98 647.17 L550.46 631.17 L550.95 614.07 L551.44 595.96 L551.93 576.96 L552.41 557.19 L552.9 536.76 L553.39 515.8 L553.88 494.44 L554.36 472.81 L554.85 451.05 L555.34 429.29 L555.83 407.66 L556.31 386.3 L556.8 365.34 L557.29 344.91 L557.77 325.14 L558.26 306.14 L558.75 288.03 L559.24 270.93 L559.73 254.93 L560.21 240.15 L560.7 226.67 L561.19 214.57 L561.68 203.93 L562.16 194.81 L562.65 187.27 L563.14 181.36 L563.62 177.11 L564.11 174.55 L564.6 173.7 L565.05 174.47 L565.5 176.77 L565.94 180.6 L566.39 185.92 L566.84 192.7 L567.28 200.91 L567.73 210.49 L568.18 221.38 L568.63 233.51 L569.08 246.82 L569.52 261.22 L569.97 276.61 L570.42 292.91 L570.87 310.01 L571.31 327.81 L571.76 346.2 L572.21 365.07 L572.65 384.3 L573.1 403.76 L573.55 423.35 L574 442.94 L574.45 462.4 L574.89 481.63 L575.34 500.5 L575.79 518.89 L576.24 536.69 L576.68 553.79 L577.13 570.09 L577.58 585.48 L578.02 599.88 L578.47 613.19 L578.92 625.32 L579.37 636.21 L579.82 645.79 L580.26 654 L580.71 660.78 L581.16 666.1 L581.61 669.93 L582.05 672.23 L582.5 673 L583 672.27 L583.5 670.1 L584.01 666.5 L584.51 661.48 L585.01 655.09 L585.51 647.35 L586.02 638.33 L586.52 628.06 L587.02 616.62 L587.52 604.08 L588.03 590.52 L588.53 576.01 L589.03 560.64 L589.53 544.52 L590.04 527.75 L590.54 510.41 L591.04 492.63 L591.54 474.51 L592.05 456.16 L592.55 437.7 L593.05 419.24 L593.56 400.89 L594.06 382.77 L594.56 364.99 L595.06 347.65 L595.57 330.88 L596.07 314.76 L596.57 299.39 L597.07 284.88 L597.58 271.32 L598.08 258.78 L598.58 247.34 L599.08 237.07 L599.59 228.05 L600.09 220.31 L600.59 213.92 L601.09 208.9 L601.6 205.3 L602.1 203.13 L602.6 202.4 L603.07 203.14 L603.54 205.34 L604.01 209 L604.48 214.1 L604.95 220.6 L605.42 228.45 L605.89 237.63 L606.36 248.05 L606.83 259.67 L607.3 272.42 L607.77 286.2 L608.24 300.94 L608.71 316.55 L609.18 332.92 L609.65 349.97 L610.12 367.58 L610.59 385.64 L611.06 404.05 L611.53 422.69 L612 441.45 L612.47 460.21 L612.94 478.85 L613.41 497.26 L613.88 515.32 L614.35 532.93 L614.82 549.98 L615.29 566.35 L615.76 581.96 L616.23 596.7 L616.7 610.48 L617.17 623.23 L617.64 634.85 L618.11 645.27 L618.58 654.45 L619.05 662.3 L619.52 668.8 L619.99 673.9 L620.46 677.56 L620.93 679.76 L621.4 680.5 L621.86 679.77 L622.32 677.6 L622.79 673.98 L623.25 668.95 L623.71 662.54 L624.17 654.78 L624.64 645.73 L625.1 635.44 L625.56 623.97 L626.02 611.39 L626.49 597.79 L626.95 583.24 L627.41 567.83 L627.88 551.67 L628.34 534.84 L628.8 517.46 L629.26 499.63 L629.73 481.46 L630.19 463.06 L630.65 444.55 L631.11 426.04 L631.57 407.64 L632.04 389.47 L632.5 371.64 L632.96 354.26 L633.42 337.43 L633.89 321.27 L634.35 305.86 L634.81 291.31 L635.27 277.71 L635.74 265.13 L636.2 253.66 L636.66 243.37 L637.12 234.32 L637.59 226.56 L638.05 220.15 L638.51 215.12 L638.98 211.5 L639.44 209.33 L639.9 208.6 L640.35 209.3 L640.8 211.38 L641.25 214.85 L641.7 219.67 L642.15 225.81 L642.6 233.25 L643.05 241.93 L643.5 251.79 L643.95 262.78 L644.4 274.84 L644.85 287.88 L645.3 301.82 L645.75 316.59 L646.2 332.08 L646.65 348.21 L647.1 364.87 L647.55 381.96 L648 399.37 L648.45 417.01 L648.9 434.75 L649.35 452.49 L649.8 470.13 L650.25 487.54 L650.7 504.63 L651.15 521.29 L651.6 537.42 L652.05 552.91 L652.5 567.68 L652.95 581.62 L653.4 594.66 L653.85 606.72 L654.3 617.71 L654.75 627.57 L655.2 636.25 L655.65 643.69 L656.1 649.83 L656.55 654.65 L657 658.12 L657.45 660.2 L657.9 660.9 L658.4 660.22 L658.89 658.19 L659.39 654.83 L659.89 650.14 L660.39 644.16 L660.88 636.94 L661.38 628.5 L661.88 618.91 L662.38 608.23 L662.88 596.51 L663.37 583.83 L663.87 570.27 L664.37 555.92 L664.87 540.86 L665.36 525.18 L665.86 508.99 L666.36 492.37 L666.86 475.44 L667.35 458.3 L667.85 441.05 L668.35 423.8 L668.84 406.66 L669.34 389.73 L669.84 373.11 L670.34 356.92 L670.83 341.24 L671.33 326.18 L671.83 311.83 L672.33 298.27 L672.82 285.59 L673.32 273.87 L673.82 263.19 L674.32 253.6 L674.81 245.16 L675.31 237.94 L675.81 231.96 L676.31 227.27 L676.8 223.91 L677.3 221.88 L677.8 221.2 L678.26 221.83 L678.73 223.73 L679.19 226.87 L679.66 231.25 L680.12 236.83 L680.59 243.58 L681.05 251.46 L681.52 260.42 L681.99 270.4 L682.45 281.35 L682.91 293.19 L683.38 305.85 L683.84 319.25 L684.31 333.32 L684.77 347.97 L685.24 363.09 L685.7 378.61 L686.17 394.43 L686.63 410.44 L687.1 426.55 L687.56 442.66 L688.03 458.67 L688.5 474.49 L688.96 490.01 L689.42 505.13 L689.89 519.78 L690.36 533.85 L690.82 547.25 L691.28 559.91 L691.75 571.75 L692.21 582.7 L692.68 592.68 L693.14 601.64 L693.61 609.52 L694.07 616.27 L694.54 621.85 L695 626.23 L695.47 629.37 L695.93 631.27 L696.4 631.9 L696.88 631.3 L697.37 629.5 L697.85 626.52 L698.33 622.37 L698.81 617.07 L699.29 610.67 L699.78 603.19 L700.26 594.7 L700.74 585.23 L701.23 574.84 L701.71 563.61 L702.19 551.6 L702.67 538.88 L703.15 525.54 L703.64 511.65 L704.12 497.3 L704.6 482.58 L705.09 467.57 L705.57 452.38 L706.05 437.1 L706.53 421.82 L707.01 406.63 L707.5 391.62 L707.98 376.9 L708.46 362.55 L708.95 348.66 L709.43 335.32 L709.91 322.6 L710.39 310.59 L710.88 299.36 L711.36 288.97 L711.84 279.5 L712.32 271.01 L712.81 263.53 L713.29 257.13 L713.77 251.83 L714.25 247.68 L714.74 244.7 L715.22 242.9 L715.7 242.3 L716.17 242.92 L716.63 244.76 L717.1 247.83 L717.56 252.1 L718.03 257.54 L718.49 264.12 L718.96 271.79 L719.42 280.53 L719.88 290.25 L720.35 300.92 L720.82 312.46 L721.28 324.8 L721.75 337.87 L722.21 351.58 L722.67 365.86 L723.14 380.6 L723.61 395.73 L724.07 411.14 L724.53 426.75 L725 442.45 L725.47 458.15 L725.93 473.76 L726.39 489.17 L726.86 504.3 L727.33 519.04 L727.79 533.32 L728.25 547.03 L728.72 560.1 L729.18 572.44 L729.65 583.98 L730.12 594.65 L730.58 604.37 L731.04 613.11 L731.51 620.78 L731.97 627.36 L732.44 632.8 L732.9 637.07 L733.37 640.14 L733.83 641.98 L734.3 642.6 L734.79 641.98 L735.28 640.14 L735.78 637.07 L736.27 632.8 L736.76 627.36 L737.25 620.78 L737.75 613.11 L738.24 604.37 L738.73 594.65 L739.22 583.98 L739.72 572.44 L740.21 560.1 L740.7 547.03 L741.19 533.32 L741.69 519.04 L742.18 504.3 L742.67 489.17 L743.16 473.76 L743.66 458.15 L744.15 442.45 L744.64 426.75 L745.13 411.14 L745.63 395.73 L746.12 380.6 L746.61 365.86 L747.11 351.58 L747.6 337.87 L748.09 324.8 L748.58 312.46 L749.08 300.92 L749.57 290.25 L750.06 280.53 L750.55 271.79 L751.04 264.12 L751.54 257.54 L752.03 252.1 L752.52 247.83 L753.01 244.76 L753.51 242.92 L754 242.3 L754.46 242.94 L754.91 244.85 L755.37 248.02 L755.82 252.44 L756.27 258.07 L756.73 264.88 L757.19 272.83 L757.64 281.87 L758.1 291.94 L758.55 302.99 L759 314.93 L759.46 327.71 L759.91 341.24 L760.37 355.43 L760.83 370.21 L761.28 385.47 L761.74 401.13 L762.19 417.09 L762.64 433.24 L763.1 449.5 L763.56 465.76 L764.01 481.91 L764.47 497.87 L764.92 513.53 L765.38 528.79 L765.83 543.57 L766.29 557.76 L766.74 571.29 L767.2 584.07 L767.65 596.01 L768.11 607.06 L768.56 617.13 L769.01 626.17 L769.47 634.12 L769.93 640.93 L770.38 646.56 L770.84 650.98 L771.29 654.15 L771.75 656.06 L772.2 656.7 L772.69 656.06 L773.19 654.15 L773.68 650.97 L774.17 646.54 L774.66 640.91 L775.16 634.08 L775.65 626.12 L776.14 617.07 L776.63 606.98 L777.12 595.92 L777.62 583.96 L778.11 571.17 L778.6 557.62 L779.1 543.4 L779.59 528.61 L780.08 513.32 L780.57 497.64 L781.07 481.66 L781.56 465.48 L782.05 449.2 L782.54 432.92 L783.03 416.74 L783.53 400.76 L784.02 385.08 L784.51 369.79 L785 355 L785.5 340.78 L785.99 327.23 L786.48 314.44 L786.98 302.48 L787.47 291.42 L787.96 281.33 L788.45 272.28 L788.94 264.32 L789.44 257.49 L789.93 251.86 L790.42 247.43 L790.91 244.25 L791.41 242.34 L791.9 241.7 L792.38 242.3 L792.87 244.1 L793.36 247.08 L793.84 251.22 L794.32 256.51 L794.81 262.9 L795.29 270.37 L795.78 278.86 L796.26 288.31 L796.75 298.68 L797.24 309.9 L797.72 321.9 L798.2 334.6 L798.69 347.93 L799.17 361.8 L799.66 376.13 L800.14 390.83 L800.63 405.82 L801.12 420.99 L801.6 436.25 L802.08 451.51 L802.57 466.68 L803.05 481.67 L803.54 496.37 L804.02 510.7 L804.51 524.57 L805 537.9 L805.48 550.6 L805.96 562.6 L806.45 573.82 L806.93 584.19 L807.42 593.64 L807.9 602.13 L808.39 609.6 L808.88 615.99 L809.36 621.28 L809.84 625.42 L810.33 628.4 L810.81 630.2 L811.3 630.8 L811.76 630.21 L812.22 628.43 L812.69 625.49 L813.15 621.4 L813.61 616.17 L814.07 609.86 L814.54 602.48 L815 594.1 L815.46 584.76 L815.92 574.52 L816.39 563.44 L816.85 551.59 L817.31 539.05 L817.77 525.88 L818.24 512.18 L818.7 498.03 L819.16 483.51 L819.62 468.71 L820.09 453.73 L820.55 438.65 L821.01 423.57 L821.47 408.59 L821.94 393.79 L822.4 379.27 L822.86 365.12 L823.32 351.42 L823.79 338.25 L824.25 325.71 L824.71 313.86 L825.17 302.78 L825.64 292.54 L826.1 283.2 L826.56 274.82 L827.02 267.44 L827.49 261.13 L827.95 255.9 L828.41 251.81 L828.88 248.87 L829.34 247.09 L829.8 246.5 L830.29 247.1 L830.78 248.89 L831.28 251.86 L831.77 255.99 L832.26 261.26 L832.75 267.63 L833.25 275.07 L833.74 283.52 L834.23 292.95 L834.72 303.28 L835.22 314.45 L835.71 326.41 L836.2 339.06 L836.69 352.34 L837.19 366.17 L837.68 380.45 L838.17 395.1 L838.66 410.03 L839.16 425.14 L839.65 440.35 L840.14 455.56 L840.63 470.67 L841.13 485.6 L841.62 500.25 L842.11 514.53 L842.61 528.36 L843.1 541.64 L843.59 554.29 L844.08 566.25 L844.58 577.42 L845.07 587.75 L845.56 597.18 L846.05 605.63 L846.54 613.07 L847.04 619.44 L847.53 624.71 L848.02 628.84 L848.51 631.81 L849.01 633.6 L849.5 634.2 L849.97 633.58 L850.44 631.74 L850.91 628.67 L851.38 624.4 L851.85 618.96 L852.32 612.38 L852.79 604.71 L853.26 595.97 L853.73 586.25 L854.2 575.58 L854.67 564.04 L855.14 551.7 L855.61 538.63 L856.08 524.92 L856.55 510.64 L857.02 495.9 L857.49 480.77 L857.96 465.36 L858.43 449.75 L858.9 434.05 L859.37 418.35 L859.84 402.74 L860.31 387.33 L860.78 372.2 L861.25 357.46 L861.72 343.18 L862.19 329.47 L862.66 316.4 L863.13 304.06 L863.6 292.52 L864.07 281.85 L864.54 272.13 L865.01 263.39 L865.48 255.72 L865.95 249.14 L866.42 243.7 L866.89 239.43 L867.36 236.36 L867.83 234.52 L868.3 233.9 L868.76 234.55 L869.21 236.48 L869.67 239.69 L870.13 244.16 L870.59 249.85 L871.04 256.74 L871.5 264.78 L871.96 273.92 L872.42 284.11 L872.88 295.28 L873.33 307.36 L873.79 320.28 L874.25 333.96 L874.7 348.32 L875.16 363.26 L875.62 378.7 L876.08 394.53 L876.53 410.67 L876.99 427.01 L877.45 443.45 L877.91 459.89 L878.37 476.23 L878.82 492.37 L879.28 508.2 L879.74 523.64 L880.2 538.58 L880.65 552.94 L881.11 566.62 L881.57 579.54 L882.02 591.62 L882.48 602.79 L882.94 612.98 L883.4 622.12 L883.86 630.16 L884.31 637.05 L884.77 642.74 L885.23 647.21 L885.69 650.42 L886.14 652.35 L886.6 653 L887.09 652.32 L887.58 650.3 L888.07 646.93 L888.56 642.25 L889.05 636.28 L889.54 629.05 L890.03 620.63 L890.52 611.04 L891.01 600.36 L891.5 588.65 L891.99 575.98 L892.48 562.44 L892.97 548.09 L893.46 533.04 L893.95 517.38 L894.44 501.19 L894.93 484.59 L895.42 467.67 L895.91 450.54 L896.4 433.3 L896.89 416.06 L897.38 398.93 L897.87 382.01 L898.36 365.41 L898.85 349.22 L899.34 333.56 L899.83 318.51 L900.32 304.16 L900.81 290.62 L901.3 277.95 L901.79 266.24 L902.28 255.56 L902.77 245.97 L903.26 237.55 L903.75 230.32 L904.24 224.35 L904.73 219.67 L905.22 216.3 L905.71 214.28 L906.2 213.6 L906.69 214.27 L907.19 216.28 L907.68 219.62 L908.17 224.26 L908.66 230.18 L909.16 237.33 L909.65 245.69 L910.14 255.19 L910.63 265.77 L911.12 277.38 L911.62 289.93 L912.11 303.36 L912.6 317.58 L913.1 332.49 L913.59 348.02 L914.08 364.06 L914.57 380.52 L915.07 397.29 L915.56 414.27 L916.05 431.35 L916.54 448.43 L917.03 465.41 L917.53 482.18 L918.02 498.64 L918.51 514.68 L919 530.21 L919.5 545.12 L919.99 559.34 L920.48 572.77 L920.98 585.32 L921.47 596.93 L921.96 607.51 L922.45 617.01 L922.94 625.37 L923.44 632.52 L923.93 638.44 L924.42 643.08 L924.91 646.42 L925.41 648.43 L925.9 649.1 L926.39 648.44 L926.88 646.48 L927.38 643.22 L927.87 638.68 L928.36 632.89 L928.86 625.89 L929.35 617.72 L929.84 608.43 L930.33 598.08 L930.83 586.73 L931.32 574.45 L931.81 561.32 L932.3 547.42 L932.79 532.83 L933.29 517.64 L933.78 501.96 L934.27 485.86 L934.76 469.46 L935.26 452.86 L935.75 436.15 L936.24 419.44 L936.74 402.84 L937.23 386.44 L937.72 370.34 L938.21 354.66 L938.71 339.47 L939.2 324.88 L939.69 310.98 L940.18 297.85 L940.67 285.57 L941.17 274.22 L941.66 263.87 L942.15 254.58 L942.64 246.41 L943.14 239.41 L943.63 233.62 L944.12 229.08 L944.62 225.82 L945.11 223.86 L945.6 223.2 L946.07 223.91 L946.54 226.05 L947.01 229.6 L947.48 234.53 L947.95 240.82 L948.42 248.43 L948.89 257.31 L949.36 267.41 L949.83 278.67 L950.3 291 L950.77 304.35 L951.24 318.63 L951.71 333.74 L952.18 349.6 L952.65 366.11 L953.12 383.16 L953.59 400.66 L954.06 418.49 L954.53 436.54 L955 454.7 L955.47 472.86 L955.94 490.91 L956.41 508.74 L956.88 526.24 L957.35 543.29 L957.82 559.8 L958.29 575.66 L958.76 590.77 L959.23 605.05 L959.7 618.4 L960.17 630.73 L960.64 641.99 L961.11 652.09 L961.58 660.97 L962.05 668.58 L962.52 674.87 L962.99 679.8 L963.46 683.35 L963.93 685.49 L964.4 686.2 L964.89 685.42 L965.38 683.09 L965.87 679.21 L966.36 673.82 L966.85 666.95 L967.34 658.64 L967.83 648.94 L968.32 637.91 L968.81 625.62 L969.3 612.14 L969.79 597.56 L970.28 581.97 L970.77 565.46 L971.26 548.14 L971.75 530.11 L972.24 511.48 L972.73 492.38 L973.22 472.9 L973.71 453.19 L974.2 433.35 L974.69 413.51 L975.18 393.8 L975.67 374.32 L976.16 355.22 L976.65 336.59 L977.14 318.56 L977.63 301.24 L978.12 284.73 L978.61 269.14 L979.1 254.56 L979.59 241.08 L980.08 228.79 L980.57 217.76 L981.06 208.06 L981.55 199.75 L982.04 192.88 L982.53 187.49 L983.02 183.61 L983.51 181.28 L984 180.5 L984.47 181.3 L984.93 183.69 L985.39 187.67 L985.86 193.2 L986.33 200.25 L986.79 208.78 L987.25 218.74 L987.72 230.06 L988.19 242.67 L988.65 256.51 L989.12 271.47 L989.58 287.47 L990.04 304.41 L990.51 322.19 L990.98 340.69 L991.44 359.81 L991.9 379.42 L992.37 399.41 L992.84 419.64 L993.3 440 L993.76 460.36 L994.23 480.59 L994.7 500.58 L995.16 520.19 L995.62 539.31 L996.09 557.81 L996.56 575.59 L997.02 592.53 L997.49 608.53 L997.95 623.49 L998.41 637.33 L998.88 649.94 L999.35 661.26 L999.81 671.22 L1000.27 679.75 L1000.74 686.8 L1001.21 692.33 L1001.67 696.31 L1002.13 698.7 L1002.6 699.5 L1003.07 698.69 L1003.53 696.27 L1004 692.25 L1004.46 686.65 L1004.93 679.52 L1005.39 670.89 L1005.86 660.82 L1006.32 649.37 L1006.79 636.61 L1007.25 622.62 L1007.72 607.48 L1008.18 591.29 L1008.64 574.16 L1009.11 556.17 L1009.58 537.45 L1010.04 518.12 L1010.5 498.28 L1010.97 478.06 L1011.44 457.6 L1011.9 437 L1012.37 416.4 L1012.83 395.94 L1013.3 375.72 L1013.76 355.88 L1014.23 336.55 L1014.69 317.83 L1015.16 299.84 L1015.62 282.71 L1016.09 266.52 L1016.55 251.38 L1017.01 237.39 L1017.48 224.63 L1017.95 213.18 L1018.41 203.11 L1018.88 194.48 L1019.34 187.35 L1019.81 181.75 L1020.27 177.73 L1020.74 175.31 L1021.2 174.5 L1021.7 175.31 L1022.2 177.75 L1022.7 181.8 L1023.2 187.43 L1023.7 194.61 L1024.2 203.3 L1024.7 213.44 L1025.2 224.97 L1025.7 237.81 L1026.2 251.9 L1026.7 267.13 L1027.2 283.43 L1027.7 300.68 L1028.2 318.78 L1028.7 337.63 L1029.2 357.09 L1029.7 377.06 L1030.2 397.41 L1030.7 418.02 L1031.2 438.75 L1031.7 459.48 L1032.2 480.09 L1032.7 500.44 L1033.2 520.41 L1033.7 539.87 L1034.2 558.72 L1034.7 576.82 L1035.2 594.07 L1035.7 610.37 L1036.2 625.6 L1036.7 639.69 L1037.2 652.53 L1037.7 664.06 L1038.2 674.2 L1038.7 682.89 L1039.2 690.07 L1039.7 695.7 L1040.2 699.75 L1040.7 702.19 L1041.2 703 L1041.66 702.14 L1042.12 699.57 L1042.57 695.3 L1043.03 689.36 L1043.49 681.79 L1043.94 672.62 L1044.4 661.93 L1044.86 649.77 L1045.32 636.23 L1045.78 621.37 L1046.23 605.3 L1046.69 588.12 L1047.15 569.92 L1047.61 550.83 L1048.06 530.95 L1048.52 510.42 L1048.98 489.36 L1049.43 467.9 L1049.89 446.17 L1050.35 424.3 L1050.81 402.43 L1051.27 380.7 L1051.72 359.24 L1052.18 338.18 L1052.64 317.65 L1053.1 297.77 L1053.55 278.68 L1054.01 260.48 L1054.47 243.3 L1054.92 227.23 L1055.38 212.37 L1055.84 198.83 L1056.3 186.67 L1056.76 175.98 L1057.21 166.81 L1057.67 159.24 L1058.13 153.3 L1058.59 149.03 L1059.04 146.46 L1059.5 145.6 L1059.96 146.46 L1060.42 149.05 L1060.89 153.34 L1061.35 159.31 L1061.81 166.93 L1062.28 176.14 L1062.74 186.89 L1063.2 199.11 L1063.66 212.73 L1064.12 227.67 L1064.59 243.82 L1065.05 261.1 L1065.51 279.4 L1065.97 298.59 L1066.44 318.57 L1066.9 339.21 L1067.36 360.39 L1067.83 381.97 L1068.29 403.82 L1068.75 425.8 L1069.21 447.78 L1069.67 469.63 L1070.14 491.21 L1070.6 512.39 L1071.06 533.03 L1071.53 553.01 L1071.99 572.2 L1072.45 590.5 L1072.91 607.78 L1073.38 623.93 L1073.84 638.87 L1074.3 652.49 L1074.76 664.71 L1075.22 675.46 L1075.69 684.67 L1076.15 692.29 L1076.61 698.26 L1077.08 702.55 L1077.54 705.14 L1078 706 L1078.48 705.18 L1078.95 702.71 L1079.43 698.62 L1079.91 692.92 L1080.39 685.66 L1080.87 676.87 L1081.34 666.62 L1081.82 654.96 L1082.3 641.97 L1082.78 627.72 L1083.25 612.31 L1083.73 595.84 L1084.21 578.39 L1084.68 560.08 L1085.16 541.02 L1085.64 521.33 L1086.12 501.14 L1086.6 480.56 L1087.07 459.72 L1087.55 438.75 L1088.03 417.78 L1088.5 396.94 L1088.98 376.36 L1089.46 356.17 L1089.94 336.48 L1090.41 317.42 L1090.89 299.11 L1091.37 281.66 L1091.85 265.19 L1092.32 249.78 L1092.8 235.53 L1093.28 222.54 L1093.76 210.88 L1094.23 200.63 L1094.71 191.84 L1095.19 184.58 L1095.67 178.88 L1096.14 174.79 L1096.62 172.32 L1097.1 171.5 L1097.58 172.32 L1098.06 174.76 L1098.54 178.82 L1099.02 184.47 L1099.5 191.67 L1099.98 200.38 L1100.46 210.55 L1100.94 222.11 L1101.42 234.99 L1101.9 249.12 L1102.38 264.4 L1102.86 280.74 L1103.34 298.04 L1103.82 316.19 L1104.3 335.09 L1104.78 354.61 L1105.26 374.64 L1105.74 395.04 L1106.22 415.71 L1106.7 436.5 L1107.18 457.29 L1107.66 477.96 L1108.14 498.36 L1108.62 518.39 L1109.1 537.91 L1109.58 556.81 L1110.06 574.96 L1110.54 592.26 L1111.02 608.6 L1111.5 623.88 L1111.98 638.01 L1112.46 650.89 L1112.94 662.45 L1113.42 672.62 L1113.9 681.33 L1114.38 688.53 L1114.86 694.18 L1115.34 698.24 L1115.82 700.68 L1116.3 701.5 L1116.78 700.68 L1117.25 698.24 L1117.73 694.19 L1118.21 688.54 L1118.69 681.35 L1119.16 672.65 L1119.64 662.49 L1120.12 650.95 L1120.6 638.08 L1121.08 623.97 L1121.55 608.71 L1122.03 592.39 L1122.51 575.11 L1122.98 556.97 L1123.46 538.1 L1123.94 518.6 L1124.42 498.59 L1124.89 478.21 L1125.37 457.57 L1125.85 436.8 L1126.33 416.03 L1126.81 395.39 L1127.28 375.01 L1127.76 355 L1128.24 335.5 L1128.72 316.63 L1129.19 298.49 L1129.67 281.21 L1130.15 264.89 L1130.62 249.63 L1131.1 235.52 L1131.58 222.65 L1132.06 211.11 L1132.54 200.95 L1133.01 192.25 L1133.49 185.06 L1133.97 179.41 L1134.45 175.36 L1134.92 172.92 L1135.4 172.1 L1135.88 172.93 L1136.36 175.4 L1136.83 179.51 L1137.31 185.22 L1137.79 192.51 L1138.27 201.32 L1138.74 211.61 L1139.22 223.3 L1139.7 236.34 L1140.18 250.62 L1140.65 266.08 L1141.13 282.61 L1141.61 300.12 L1142.09 318.49 L1142.56 337.6 L1143.04 357.35 L1143.52 377.61 L1144 398.26 L1144.47 419.17 L1144.95 440.2 L1145.43 461.23 L1145.9 482.14 L1146.38 502.79 L1146.86 523.05 L1147.34 542.8 L1147.82 561.91 L1148.29 580.28 L1148.77 597.79 L1149.25 614.32 L1149.72 629.78 L1150.2 644.06 L1150.68 657.1 L1151.16 668.79 L1151.63 679.08 L1152.11 687.89 L1152.59 695.18 L1153.07 700.89 L1153.55 705 L1154.02 707.47 L1154.5 708.3 L1154.99 707.48 L1155.48 705.03 L1155.98 700.96 L1156.47 695.29 L1156.96 688.07 L1157.45 679.33 L1157.95 669.14 L1158.44 657.55 L1158.93 644.63 L1159.42 630.46 L1159.92 615.14 L1160.41 598.75 L1160.9 581.4 L1161.39 563.2 L1161.89 544.25 L1162.38 524.67 L1162.87 504.59 L1163.37 484.12 L1163.86 463.4 L1164.35 442.55 L1164.84 421.7 L1165.34 400.98 L1165.83 380.51 L1166.32 360.43 L1166.81 340.85 L1167.31 321.9 L1167.8 303.7 L1168.29 286.35 L1168.78 269.96 L1169.28 254.64 L1169.77 240.47 L1170.26 227.55 L1170.75 215.96 L1171.25 205.77 L1171.74 197.03 L1172.23 189.81 L1172.72 184.14 L1173.22 180.07 L1173.71 177.62 L1174.2 176.8 L1174.66 177.61 L1175.13 180.03 L1175.6 184.04 L1176.06 189.63 L1176.53 196.75 L1176.99 205.37 L1177.45 215.42 L1177.92 226.86 L1178.38 239.6 L1178.85 253.57 L1179.32 268.68 L1179.78 284.84 L1180.25 301.95 L1180.71 319.91 L1181.17 338.6 L1181.64 357.91 L1182.11 377.71 L1182.57 397.9 L1183.04 418.34 L1183.5 438.9 L1183.96 459.46 L1184.43 479.9 L1184.89 500.09 L1185.36 519.89 L1185.83 539.2 L1186.29 557.89 L1186.75 575.85 L1187.22 592.96 L1187.68 609.12 L1188.15 624.23 L1188.62 638.2 L1189.08 650.94 L1189.55 662.38 L1190.01 672.43 L1190.47 681.05 L1190.94 688.17 L1191.4 693.76 L1191.87 697.77 L1192.34 700.19 L1192.8 701 L1193.29 700.17 L1193.78 697.7 L1194.28 693.58 L1194.77 687.86 L1195.26 680.57 L1195.75 671.75 L1196.25 661.45 L1196.74 649.74 L1197.23 636.69 L1197.72 622.39 L1198.22 606.91 L1198.71 590.36 L1199.2 572.84 L1199.69 554.45 L1200.19 535.31 L1200.68 515.54 L1201.17 495.26 L1201.66 474.59 L1202.16 453.66 L1202.65 432.6 L1203.14 411.54 L1203.63 390.61 L1204.13 369.94 L1204.62 349.66 L1205.11 329.89 L1205.61 310.75 L1206.1 292.36 L1206.59 274.84 L1207.08 258.29 L1207.58 242.81 L1208.07 228.51 L1208.56 215.46 L1209.05 203.75 L1209.55 193.45 L1210.04 184.63 L1210.53 177.34 L1211.02 171.62 L1211.52 167.5 L1212.01 165.03 L1212.5 164.2 L1212.96 165.03 L1213.42 167.52 L1213.89 171.64 L1214.35 177.39 L1214.81 184.71 L1215.28 193.56 L1215.74 203.9 L1216.2 215.65 L1216.66 228.75 L1217.12 243.11 L1217.59 258.64 L1218.05 275.25 L1218.51 292.84 L1218.97 311.29 L1219.44 330.51 L1219.9 350.35 L1220.36 370.71 L1220.83 391.46 L1221.29 412.46 L1221.75 433.6 L1222.21 454.74 L1222.67 475.74 L1223.14 496.49 L1223.6 516.85 L1224.06 536.69 L1224.53 555.91 L1224.99 574.36 L1225.45 591.95 L1225.91 608.56 L1226.38 624.09 L1226.84 638.45 L1227.3 651.55 L1227.76 663.3 L1228.22 673.64 L1228.69 682.49 L1229.15 689.81 L1229.61 695.56 L1230.08 699.68 L1230.54 702.17 L1231 703 L1231.49 702.19 L1231.99 699.75 L1232.48 695.71 L1232.98 690.08 L1233.47 682.91 L1233.97 674.23 L1234.46 664.1 L1234.96 652.59 L1235.45 639.76 L1235.95 625.69 L1236.44 610.47 L1236.94 594.2 L1237.43 576.96 L1237.93 558.88 L1238.42 540.06 L1238.92 520.62 L1239.41 500.67 L1239.91 480.34 L1240.4 459.76 L1240.9 439.05 L1241.39 418.34 L1241.89 397.76 L1242.38 377.43 L1242.88 357.48 L1243.38 338.04 L1243.87 319.22 L1244.37 301.14 L1244.86 283.9 L1245.36 267.63 L1245.85 252.41 L1246.35 238.34 L1246.84 225.51 L1247.34 214 L1247.83 203.87 L1248.33 195.19 L1248.82 188.02 L1249.32 182.39 L1249.81 178.35 L1250.31 175.91 L1250.8 175.1 L1251.26 175.93 L1251.72 178.41 L1252.19 182.54 L1252.65 188.27 L1253.11 195.58 L1253.58 204.43 L1254.04 214.75 L1254.5 226.49 L1254.96 239.57 L1255.42 253.92 L1255.89 269.43 L1256.35 286.03 L1256.81 303.6 L1257.27 322.03 L1257.74 341.22 L1258.2 361.04 L1258.66 381.38 L1259.12 402.1 L1259.59 423.09 L1260.05 444.2 L1260.51 465.31 L1260.97 486.3 L1261.44 507.02 L1261.9 527.36 L1262.36 547.18 L1262.83 566.37 L1263.29 584.8 L1263.75 602.37 L1264.21 618.97 L1264.67 634.48 L1265.14 648.83 L1265.6 661.91 L1266.06 673.65 L1266.52 683.97 L1266.99 692.82 L1267.45 700.13 L1267.91 705.86 L1268.38 709.99 L1268.84 712.47 L1269.3 713.3 L1269.78 712.44 L1270.25 709.87 L1270.73 705.61 L1271.21 699.68 L1271.69 692.12 L1272.16 682.97 L1272.64 672.3 L1273.12 660.16 L1273.6 646.63 L1274.08 631.8 L1274.55 615.76 L1275.03 598.6 L1275.51 580.44 L1275.98 561.37 L1276.46 541.53 L1276.94 521.03 L1277.42 500.01 L1277.89 478.58 L1278.37 456.88 L1278.85 435.05 L1279.33 413.22 L1279.81 391.52 L1280.28 370.09 L1280.76 349.07 L1281.24 328.57 L1281.72 308.73 L1282.19 289.66 L1282.67 271.5 L1283.15 254.34 L1283.62 238.3 L1284.1 223.47 L1284.58 209.94 L1285.06 197.8 L1285.54 187.13 L1286.01 177.98 L1286.49 170.42 L1286.97 164.49 L1287.45 160.23 L1287.92 157.66 L1288.4 156.8 L1288.89 157.66 L1289.39 160.25 L1289.88 164.54 L1290.38 170.5 L1290.88 178.11 L1291.37 187.32 L1291.87 198.06 L1292.36 210.28 L1292.86 223.89 L1293.35 238.81 L1293.85 254.95 L1294.34 272.22 L1294.84 290.5 L1295.33 309.68 L1295.83 329.65 L1296.32 350.28 L1296.82 371.44 L1297.31 393 L1297.81 414.83 L1298.3 436.8 L1298.8 458.77 L1299.29 480.6 L1299.79 502.16 L1300.28 523.32 L1300.78 543.95 L1301.27 563.92 L1301.77 583.1 L1302.26 601.38 L1302.76 618.65 L1303.25 634.79 L1303.75 649.71 L1304.24 663.32 L1304.74 675.54 L1305.23 686.28 L1305.73 695.49 L1306.22 703.1 L1306.72 709.06 L1307.21 713.35 L1307.71 715.94 L1308.2 716.8 L1308.68 715.97 L1309.15 713.49 L1309.63 709.37 L1310.11 703.64 L1310.59 696.33 L1311.07 687.49 L1311.54 677.17 L1312.02 665.44 L1312.5 652.36 L1312.97 638.03 L1313.45 622.52 L1313.93 605.93 L1314.41 588.38 L1314.88 569.95 L1315.36 550.77 L1315.84 530.96 L1316.32 510.64 L1316.8 489.92 L1317.27 468.95 L1317.75 447.85 L1318.23 426.75 L1318.7 405.78 L1319.18 385.06 L1319.66 364.74 L1320.14 344.93 L1320.62 325.75 L1321.09 307.32 L1321.57 289.77 L1322.05 273.18 L1322.53 257.67 L1323 243.34 L1323.48 230.26 L1323.96 218.53 L1324.43 208.21 L1324.91 199.37 L1325.39 192.06 L1325.87 186.33 L1326.35 182.21 L1326.82 179.73 L1327.3 178.9 L1327.78 179.69 L1328.25 182.04 L1328.73 185.94 L1329.21 191.37 L1329.69 198.29 L1330.16 206.66 L1330.64 216.43 L1331.12 227.54 L1331.6 239.92 L1332.08 253.5 L1332.55 268.19 L1333.03 283.89 L1333.51 300.52 L1333.98 317.97 L1334.46 336.13 L1334.94 354.89 L1335.42 374.14 L1335.89 393.76 L1336.37 413.62 L1336.85 433.6 L1337.33 453.58 L1337.81 473.44 L1338.28 493.06 L1338.76 512.31 L1339.24 531.07 L1339.72 549.23 L1340.19 566.68 L1340.67 583.31 L1341.15 599.01 L1341.62 613.7 L1342.1 627.28 L1342.58 639.66 L1343.06 650.77 L1343.54 660.54 L1344.01 668.91 L1344.49 675.83 L1344.97 681.26 L1345.45 685.16 L1345.92 687.51 L1346.4 688.3 L1346.88 687.52 L1347.36 685.2 L1347.83 681.34 L1348.31 675.98 L1348.79 669.14 L1349.27 660.86 L1349.74 651.2 L1350.22 640.22 L1350.7 627.98 L1351.18 614.56 L1351.65 600.05 L1352.13 584.52 L1352.61 568.09 L1353.09 550.84 L1353.56 532.89 L1354.04 514.35 L1354.52 495.32 L1355 475.93 L1355.47 456.3 L1355.95 436.55 L1356.43 416.8 L1356.9 397.17 L1357.38 377.78 L1357.86 358.75 L1358.34 340.21 L1358.82 322.26 L1359.29 305.01 L1359.77 288.58 L1360.25 273.05 L1360.72 258.54 L1361.2 245.12 L1361.68 232.88 L1362.16 221.9 L1362.63 212.24 L1363.11 203.96 L1363.59 197.12 L1364.07 191.76 L1364.55 187.9 L1365.02 185.58 L1365.5 184.8 L1365.96 185.61 L1366.43 188.03 L1366.89 192.04 L1367.36 197.63 L1367.83 204.75 L1368.29 213.36 L1368.75 223.42 L1369.22 234.85 L1369.68 247.59 L1370.15 261.55 L1370.62 276.66 L1371.08 292.82 L1371.55 309.93 L1372.01 327.88 L1372.47 346.57 L1372.94 365.87 L1373.4 385.68 L1373.87 405.86 L1374.34 426.29 L1374.8 446.85 L1375.26 467.41 L1375.73 487.84 L1376.19 508.02 L1376.66 527.83 L1377.12 547.13 L1377.59 565.82 L1378.05 583.77 L1378.52 600.88 L1378.98 617.04 L1379.45 632.15 L1379.91 646.11 L1380.38 658.85 L1380.85 670.28 L1381.31 680.34 L1381.77 688.95 L1382.24 696.07 L1382.7 701.66 L1383.17 705.67 L1383.63 708.09 L1384.1 708.9 L1384.58 708.12 L1385.05 705.77 L1385.53 701.88 L1386.01 696.46 L1386.49 689.55 L1386.96 681.19 L1387.44 671.43 L1387.92 660.34 L1388.4 647.98 L1388.88 634.43 L1389.35 619.77 L1389.83 604.09 L1390.31 587.5 L1390.78 570.08 L1391.26 551.95 L1391.74 533.22 L1392.22 514 L1392.69 494.42 L1393.17 474.6 L1393.65 454.65 L1394.13 434.7 L1394.61 414.88 L1395.08 395.3 L1395.56 376.08 L1396.04 357.35 L1396.52 339.22 L1396.99 321.8 L1397.47 305.21 L1397.95 289.53 L1398.42 274.87 L1398.9 261.32 L1399.38 248.96 L1399.86 237.87 L1400.34 228.11 L1400.81 219.75 L1401.29 212.84 L1401.77 207.42 L1402.25 203.53 L1402.72 201.18 L1403.2 200.4 L1403.68 201.13 L1404.15 203.3 L1404.63 206.92 L1405.11 211.94 L1405.59 218.35 L1406.07 226.11 L1406.54 235.15 L1407.02 245.44 L1407.5 256.91 L1407.97 269.48 L1408.45 283.08 L1408.93 297.62 L1409.41 313.02 L1409.88 329.18 L1410.36 345.99 L1410.84 363.37 L1411.32 381.19 L1411.8 399.35 L1412.27 417.75 L1412.75 436.25 L1413.23 454.75 L1413.7 473.15 L1414.18 491.31 L1414.66 509.13 L1415.14 526.51 L1415.62 543.32 L1416.09 559.48 L1416.57 574.88 L1417.05 589.42 L1417.53 603.02 L1418 615.59 L1418.48 627.06 L1418.96 637.35 L1419.43 646.39 L1419.91 654.15 L1420.39 660.56 L1420.87 665.58 L1421.35 669.2 L1421.82 671.37 L1422.3 672.1 L1422.76 671.32 L1423.21 668.98 L1423.67 665.11 L1424.13 659.71 L1424.59 652.84 L1425.04 644.52 L1425.5 634.81 L1425.96 623.77 L1426.42 611.47 L1426.88 597.98 L1427.33 583.39 L1427.79 567.79 L1428.25 551.27 L1428.7 533.93 L1429.16 515.89 L1429.62 497.25 L1430.08 478.12 L1430.53 458.64 L1430.99 438.9 L1431.45 419.05 L1431.91 399.2" stroke="#1A6FDF" stroke-width="3.5"/>
</g>
<g clip-path="url(#cb)" fill="none" stroke-linejoin="miter">
<path d="M229.9 1733.16 L235.2 1733.08 L280.8 1732.1 L326.4 1730.41 L372 1727.88 L417.6 1725.34 L463.2 1722.11 L508.8 1718.17 L554.4 1710.99 L600 1700.99 L646.4 1678.76 L691.8 1621.89 L737.3 1125.19 L782.9 1876.23" stroke="#000" stroke-width="4.3" stroke-linejoin="round"/>
<path d="M229.9 1733.16 L235.2 1733.08 L280.8 1732.1 L326.4 1730.41 L372 1727.88 L417.6 1725.34 L463.2 1722.11 L508.8 1718.17 L554.4 1710.99 L600 1700.99 L646.4 1678.76 L691.8 1621.89 L737.3 1125.19 L782.9 1876.23" stroke="#FF0000" stroke-width="3.8" stroke-linecap="round" stroke-dasharray="14.9 19.7" stroke-dashoffset="5.75"/>
<path d="M229.9 1739.14 L235.2 1739.14 L280.8 1739.56 L329 1739.56 L372.3 1733.65 L417.6 1742.09 L463.2 1735.48 L508.9 1731.11 L554.4 1710.99 L600 1719.01 L645.8 1758.56 L691.8 1653.56 L737.3 1599.79 L783.5 1581.64 L828.9 1731.54 L874.2 1739.7 L920.3 1712.96 L965.9 1703.67 L1011.4 1760.25 L1057 1757.72 L1102.7 1726.47 L1147.8 1722.25 L1193.8 1746.03 L1239.4 1757.01 L1285.2 1719.43 L1330.6 1747.72 L1376.2 1739.98 L1421.8 1738.01 L1467.4 1734.77" stroke="#0000FF" stroke-width="4.2"/>
</g>
<g fill="none" stroke-width="3.7" stroke-linecap="round">
<line x1="1117.9" y1="1067.9" x2="1219.1" y2="1067.9" stroke="#000"/>
<line x1="1117.9" y1="1123.9" x2="1220.1" y2="1123.9" stroke="#F14040" stroke-dasharray="12.8 16.4"/>
<line x1="1117.9" y1="1180.4" x2="1219.1" y2="1180.4" stroke="#1A6FDF"/>
</g>
<g font-family="Liberation Sans, sans-serif" fill="#000">
<text transform="translate(14.6 61) scale(0.965 1.012)" font-size="62.5">(a)</text>
<text transform="translate(14.6 1010) scale(0.965 1.012)" font-size="62.5">(b)</text>
<text x="229.9" y="871" font-size="50" text-anchor="middle">0</text>
<text x="470.29" y="871" font-size="50" text-anchor="middle">200</text>
<text x="710.68" y="871" font-size="50" text-anchor="middle">400</text>
<text x="951.07" y="871" font-size="50" text-anchor="middle">600</text>
<text x="1191.46" y="871" font-size="50" text-anchor="middle">800</text>
<text x="1431.85" y="871" font-size="50" text-anchor="middle">1000</text>
<text x="192" y="132.7" font-size="50" text-anchor="end">-4.90</text>
<text x="192" y="414.45" font-size="50" text-anchor="end">-4.95</text>
<text x="192" y="696.2" font-size="50" text-anchor="end">-5.00</text>
<text x="363.45" y="1816.3" font-size="50" text-anchor="middle">2</text>
<text x="630.55" y="1816.3" font-size="50" text-anchor="middle">3</text>
<text x="897.65" y="1816.3" font-size="50" text-anchor="middle">4</text>
<text x="1164.75" y="1816.3" font-size="50" text-anchor="middle">5</text>
<text x="1431.85" y="1816.3" font-size="50" text-anchor="middle">6</text>
<text x="192" y="1754.3" font-size="50" text-anchor="end">0</text>
<text x="192" y="1613.55" font-size="50" text-anchor="end">1</text>
<text x="192" y="1472.8" font-size="50" text-anchor="end">2</text>
<text x="192" y="1332.05" font-size="50" text-anchor="end">3</text>
<text x="192" y="1191.3" font-size="50" text-anchor="end">4</text>
<text x="192" y="1050.55" font-size="50" text-anchor="end">5</text>
<text x="842" y="943.2" font-size="60.6" text-anchor="middle">Time (fs)</text>
<text transform="translate(61 410) rotate(-90)" font-size="60" text-anchor="middle">Dipole</text>
<text x="747.5" y="1894.7" font-size="64" font-family="Liberation Serif, serif" stroke="#000" stroke-width="0.8">ω</text>
<text x="803" y="1894.7" font-size="60" font-family="Liberation Serif, serif">(</text>
<text x="823" y="1894.7" font-size="60">eV</text>
<text x="896" y="1894.7" font-size="60" font-family="Liberation Serif, serif">)</text>
<g transform="translate(70.4 1525.5) rotate(-90)" font-size="60">
<text x="0" y="0">σ</text>
<text x="36.5" y="16" font-size="40">abs</text>
<text x="102" y="0">(</text>
<text x="122" y="0" font-size="64" font-family="Liberation Serif, serif" stroke="#000" stroke-width="0.8">ω</text>
<text x="163" y="0">)</text>
<text transform="translate(199 0) scale(0.975 1)">(a.u.)</text>
</g>
<text transform="translate(1233.2 1084.2) scale(0.98 1)" font-size="45.5">Exact</text>
<text transform="translate(1234 1140) scale(0.983 1)" font-size="45.5">VCQDS</text>
<text transform="translate(1234 1196.4) scale(0.983 1)" font-size="45.5">VQDS</text>
</g>
</svg>
</body></html>
